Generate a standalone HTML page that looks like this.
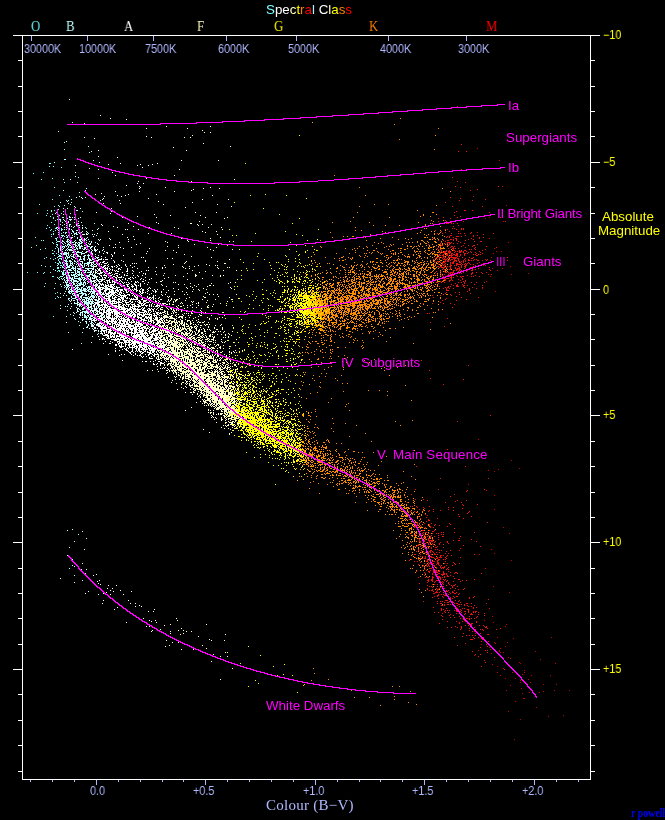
<!DOCTYPE html>
<html><head><meta charset="utf-8"><title>HR diagram</title>
<style>
html,body{margin:0;padding:0;background:#000;}
#c{position:relative;width:665px;height:820px;background:#000;overflow:hidden;}
#c svg{position:absolute;left:0;top:0;}
.t{position:absolute;white-space:nowrap;line-height:normal;transform-origin:0 0;will-change:transform;}
.s{font-family:"Liberation Sans",sans-serif;}
.r{font-family:"Liberation Serif",serif;}
.sx{transform:scaleX(.9);}
.b{font-weight:bold;}
</style></head><body>
<div id="c">
<svg width="665" height="820" viewBox="0 0 665 820">
<g shape-rendering="crispEdges" fill="none" stroke-width="1" transform="translate(0,.5)">
<path stroke="#80ffff" d="M64 149h1m-16 14h2m-2 3h1m3 0h1m7 1h1m-19 5h1m-11 1h1m18 5h1m-12 1h1m22 3h1m-11 5h1m4 8h1m-8 4h1m13 1h1m-28 4h1m18 1h1m-5 1h1m4 0h1m-13 4h1m3 0h1m2 0h1m-4 1h1m4 1h2m-21 1h1m9 0h1m13 0h1m-10 1h1m5 0h1m-13 1h1m3 1h1m6 0h1m-5 1h1m-1 1h1m3 1h1m1 0h2m-6 1h1m4 0h1m-1 1h1m-10 1h1m2 2h1m3 0h1m-12 1h1m14 0h1m-14 2h1m6 0h1m2 0h1m-14 1h1m8 0h1m5 0h1m-11 1h1m5 0h1m3 0h2m-13 1h1m4 0h1m2 0h2m1 0h1m-9 1h1m4 1h1m6 0h1m-13 1h1m7 0h1m-11 1h1m1 0h1m7 1h1m-11 1h1m7 0h1m2 0h1m-28 1h1m21 0h1m2 0h2m4 0h1m-12 1h2m6 0h1m-8 1h1m-16 1h1m1 0h1m12 0h1m0 1h1m-6 1h1m3 0h1m4 0h1m-9 1h1m2 1h1m6 0h1m-28 1h1m20 0h1m-2 1h1m3 0h1m1 0h1m-32 1h1m25 0h1m-13 1h1m9 0h1m2 0h1m-19 1h1m17 0h1m-7 1h1m8 0h1m-8 1h1m-3 2h2m2 0h1m5 0h1m2 0h1m-8 1h1m2 0h1m-8 1h1m5 0h1m-2 1h1m-14 1h1m-3 1h1m5 0h1m4 0h1m3 0h2m-8 1h1m4 0h1m4 0h1m2 0h1m-9 1h1m0 1h1m7 0h1m-13 1h1m3 0h2m1 0h1m-6 1h2m1 0h1m1 0h1m-5 1h1m4 0h1m-23 1h1m18 0h2m1 0h1m-19 1h1m4 0h1m6 1h1m2 0h1m1 0h2m-7 1h2m-6 1h1m4 1h2m7 0h1m-11 1h1m1 0h1m3 0h1m-37 1h1m9 0h1m6 0h1m5 0h1m12 0h1m1 0h1m-23 1h1m21 0h1m-1 1h1m2 0h1m-17 2h2m6 0h2m-3 1h1m-2 1h1m3 1h1m6 2h1m-7 1h1m-19 1h1m9 0h1m-12 3h1m16 0h1m3 0h1m-2 1h1m-8 5h1m-3 1h1m1 3h1m0 1h1m-4 1h1m4 7h1m-8 11h1"/>
<path stroke="#c0ffff" d="M69 99h1m30 16h1m-29 7h1m11 1h1m-27 8h1m25 6h1m-19 4h1m-3 1h1m23 4h1m2 5h1m-3 1h1m-26 7h2m27 1h1m-40 2h1m44 0h1m-25 3h1m13 3h1m-15 4h1m-1 4h1m2 1h1m19 1h1m-36 1h1m6 0h1m6 3h1m8 6h1m-24 2h1m21 0h1m-1 1h1m-7 1h1m-11 4h1m9 0h1m-4 1h1m4 0h1m3 0h1m-4 1h1m-12 1h1m30 0h1m-35 1h1m31 0h1m-34 1h1m-8 1h1m10 0h1m-4 1h1m1 1h1m-7 1h1m9 1h1m0 1h1m-13 1h1m3 0h1m12 0h1m-23 1h1m17 1h2m-15 1h1m18 0h1m-28 2h1m14 0h1m3 0h1m-12 1h1m2 0h1m7 0h1m-16 1h1m6 0h1m2 1h1m-8 1h2m5 0h2m1 0h1m1 0h1m5 0h1m-15 1h2m10 0h1m-16 1h1m5 0h3m2 0h2m-12 1h1m5 0h1m-6 1h1m2 0h1m9 0h1m-17 1h1m3 0h1m1 0h1m5 0h1m6 0h1m-16 1h1m10 0h2m15 0h1m-35 1h1m3 0h1m4 0h2m5 0h1m-11 1h1m2 0h1m6 0h1m1 0h2m2 0h1m-14 1h1m1 0h1m2 0h1m2 0h1m-21 1h1m6 0h1m1 0h1m6 0h1m5 0h1m2 0h1m2 0h1m-30 1h1m1 0h1m10 0h1m12 0h1m3 0h1m11 0h1m-35 1h1m1 0h1m1 0h2m1 0h1m25 0h1m-26 1h1m3 0h2m14 0h1m-21 1h2m8 0h1m3 0h1m-24 1h1m2 0h1m6 0h1m2 0h1m1 0h1m1 0h2m5 0h1m-23 1h1m5 0h1m2 0h3m2 0h1m6 0h1m1 0h1m-31 1h1m10 0h1m4 0h1m1 0h2m4 0h1m1 0h1m7 0h1m-31 1h2m2 0h1m1 0h1m3 0h1m23 0h1m-33 1h1m2 0h1m1 0h1m4 0h1m5 0h2m-15 1h1m3 0h2m4 0h1m2 0h2m5 0h1m-28 1h1m10 0h1m5 0h1m3 0h1m2 0h1m1 0h1m-20 1h2m1 0h1m8 0h3m2 0h2m2 0h1m9 0h1m-37 1h1m4 0h1m1 0h3m3 0h1m3 0h2m1 0h1m1 0h1m1 0h1m12 0h1m-42 1h3m1 0h2m2 0h3m1 0h2m2 0h1m5 0h2m7 0h1m1 0h1m-28 1h1m2 0h1m1 0h2m1 0h2m1 0h2m1 0h2m1 0h2m3 0h1m4 0h1m3 0h1m-34 1h1m2 0h1m2 0h1m1 0h2m3 0h1m1 0h1m1 0h3m6 0h1m1 0h1m-34 1h1m9 0h3m1 0h1m1 0h3m2 0h2m6 0h1m2 0h1m-25 1h1m1 0h1m1 0h2m4 0h2m1 0h2m1 0h1m2 0h1m2 0h1m-25 1h2m1 0h1m1 0h1m2 0h1m1 0h1m1 0h1m1 0h1m1 0h4m4 0h3m2 0h1m2 0h1m-36 1h1m1 0h1m1 0h1m3 0h1m1 0h2m1 0h2m1 0h1m2 0h2m3 0h2m4 0h2m2 0h1m8 0h1m-44 1h1m2 0h1m3 0h1m4 0h1m3 0h2m1 0h2m1 0h1m1 0h2m4 0h1m-31 1h1m1 0h1m3 0h1m1 0h4m2 0h2m1 0h1m5 0h2m1 0h1m1 0h1m2 0h1m-34 1h1m1 0h1m4 0h1m1 0h1m1 0h4m16 0h1m2 0h1m1 0h2m-38 1h1m2 0h2m10 0h3m1 0h2m3 0h1m3 0h3m2 0h1m7 0h1m4 0h1m-47 1h1m3 0h1m1 0h3m1 0h1m3 0h3m1 0h6m3 0h2m2 0h1m1 0h1m7 0h1m-40 1h2m1 0h2m1 0h3m5 0h1m1 0h1m4 0h4m6 0h2m-31 1h5m1 0h1m2 0h1m1 0h2m1 0h2m3 0h1m6 0h1m3 0h1m2 0h1m-37 1h1m2 0h1m3 0h1m1 0h1m1 0h1m2 0h1m1 0h1m1 0h2m5 0h2m1 0h3m8 0h1m-41 1h1m1 0h3m3 0h2m1 0h1m1 0h3m1 0h1m1 0h4m2 0h2m3 0h1m2 0h1m-35 1h1m4 0h2m1 0h1m1 0h3m3 0h2m5 0h1m3 0h1m3 0h1m7 0h2m-37 1h1m3 0h1m1 0h1m3 0h1m3 0h3m2 0h1m2 0h2m3 0h2m2 0h2m1 0h1m5 0h1m-41 1h1m10 0h1m4 0h1m1 0h3m1 0h2m2 0h1m4 0h2m4 0h1m-36 1h4m2 0h2m3 0h1m2 0h1m1 0h1m4 0h1m4 0h1m1 0h1m-27 1h2m2 0h3m2 0h2m1 0h1m2 0h3m10 0h1m3 0h1m-35 1h2m1 0h1m3 0h1m1 0h1m3 0h1m1 0h1m3 0h1m4 0h3m1 0h1m1 0h1m2 0h1m-32 1h3m2 0h3m1 0h1m2 0h1m1 0h2m1 0h1m1 0h6m3 0h1m4 0h1m-33 1h2m2 0h1m1 0h1m3 0h1m1 0h1m1 0h2m2 0h1m3 0h1m3 0h1m1 0h2m-39 1h1m6 0h1m1 0h2m1 0h3m1 0h1m4 0h5m1 0h1m1 0h1m1 0h1m1 0h2m1 0h1m-32 1h1m2 0h1m1 0h3m2 0h1m2 0h1m1 0h1m1 0h1m2 0h1m1 0h1m6 0h3m2 0h1m2 0h1m3 0h1m-46 1h1m7 0h4m2 0h2m1 0h1m6 0h2m-20 1h1m1 0h1m4 0h5m1 0h5m3 0h6m1 0h1m-28 1h1m2 0h3m2 0h1m1 0h1m2 0h3m6 0h2m4 0h1m1 0h1m-41 1h1m7 0h2m4 0h3m2 0h2m1 0h1m2 0h7m1 0h2m1 0h1m3 0h1m2 0h1m-38 1h1m5 0h1m7 0h1m1 0h3m3 0h1m1 0h1m4 0h2m1 0h1m-32 1h1m3 0h4m1 0h3m1 0h1m1 0h3m1 0h1m2 0h2m1 0h4m-29 1h2m3 0h2m6 0h2m2 0h1m1 0h1m2 0h1m5 0h1m1 0h1m2 0h1m1 0h1m2 0h1m-39 1h3m2 0h1m3 0h1m1 0h3m1 0h6m1 0h1m4 0h1m1 0h2m1 0h1m-32 1h1m2 0h4m1 0h4m1 0h1m1 0h2m1 0h3m2 0h4m2 0h1m2 0h1m14 0h1m-49 1h1m3 0h2m1 0h1m4 0h4m3 0h1m3 0h1m1 0h1m5 0h2m1 0h1m-40 1h1m6 0h1m1 0h5m1 0h1m1 0h1m4 0h1m1 0h4m2 0h1m2 0h1m1 0h1m1 0h2m3 0h1m-39 1h1m1 0h1m2 0h7m1 0h7m1 0h1m1 0h5m1 0h1m2 0h1m2 0h1m-38 1h1m4 0h1m2 0h1m1 0h1m1 0h3m4 0h4m1 0h2m1 0h2m1 0h1m9 0h1m1 0h1m-38 1h1m1 0h3m1 0h2m1 0h4m2 0h2m2 0h1m1 0h1m4 0h1m2 0h2m12 0h1m-43 1h1m1 0h1m3 0h1m1 0h6m1 0h1m3 0h1m2 0h2m1 0h2m4 0h1m1 0h1m1 0h1m-36 1h3m4 0h2m3 0h1m2 0h2m1 0h3m2 0h1m1 0h1m-25 1h1m2 0h1m1 0h1m1 0h2m1 0h1m1 0h4m1 0h1m1 0h1m1 0h1m3 0h1m1 0h1m4 0h1m1 0h1m-41 1h1m5 0h3m1 0h1m2 0h2m2 0h1m1 0h5m1 0h1m7 0h1m-30 1h1m1 0h5m1 0h1m2 0h6m2 0h2m8 0h1m1 0h2m-30 1h2m2 0h2m2 0h1m1 0h1m5 0h1m2 0h1m1 0h2m3 0h1m1 0h1m8 0h1m-39 1h2m1 0h1m1 0h4m1 0h3m2 0h2m4 0h3m3 0h1m3 0h1m8 0h1m-53 1h1m11 0h1m1 0h1m2 0h2m2 0h3m1 0h1m1 0h1m1 0h3m1 0h1m1 0h1m2 0h1m2 0h1m4 0h1m4 0h1m-40 1h1m1 0h1m1 0h2m1 0h3m1 0h5m1 0h1m1 0h2m1 0h5m2 0h2m-28 1h1m1 0h3m2 0h2m2 0h6m1 0h2m2 0h1m-27 1h1m2 0h14m2 0h3m1 0h3m1 0h2m2 0h1m-29 1h2m1 0h1m4 0h2m3 0h2m7 0h1m1 0h3m6 0h1m-42 1h1m3 0h1m4 0h2m1 0h4m3 0h7m5 0h4m-23 1h1m1 0h2m1 0h2m3 0h2m1 0h2m4 0h1m2 0h1m6 0h2m-40 1h1m2 0h1m6 0h6m2 0h2m2 0h2m4 0h3m1 0h1m5 0h1m3 0h1m-35 1h1m3 0h4m1 0h1m7 0h1m1 0h1m1 0h3m1 0h1m2 0h1m1 0h1m-42 1h1m10 0h1m3 0h4m1 0h2m1 0h5m1 0h2m1 0h2m4 0h1m-31 1h2m2 0h4m2 0h2m1 0h1m3 0h3m1 0h1m8 0h1m4 0h1m-36 1h1m2 0h1m4 0h5m1 0h3m1 0h1m1 0h4m2 0h1m1 0h1m1 0h1m-30 1h1m1 0h1m1 0h2m2 0h1m1 0h2m1 0h1m1 0h1m1 0h2m2 0h1m1 0h1m3 0h2m-28 1h1m6 0h1m3 0h1m1 0h4m1 0h6m3 0h2m5 0h1m-31 1h1m2 0h2m1 0h1m3 0h4m1 0h1m1 0h1m2 0h1m-24 1h1m2 0h4m1 0h4m1 0h7m1 0h2m4 0h1m-31 1h1m8 0h6m1 0h1m1 0h3m1 0h2m3 0h1m-19 1h1m1 0h2m1 0h2m4 0h1m2 0h1m5 0h3m-35 1h1m1 0h1m3 0h1m7 0h1m1 0h1m4 0h1m6 0h1m4 0h1m5 0h1m-29 1h1m6 0h3m1 0h3m1 0h1m2 0h1m1 0h1m-37 1h1m9 0h1m6 0h2m3 0h3m2 0h1m3 0h2m2 0h3m-21 1h1m1 0h1m2 0h2m2 0h4m1 0h1m2 0h1m4 0h1m-33 1h1m9 0h1m2 0h1m5 0h2m3 0h1m1 0h1m1 0h2m9 0h1m-30 1h2m3 0h6m1 0h1m6 0h1m1 0h1m-26 1h1m2 0h1m3 0h3m1 0h8m1 0h1m1 0h1m-22 1h1m5 0h1m1 0h1m2 0h1m1 0h2m4 0h1m5 0h1m2 0h1m-33 1h1m8 0h2m1 0h1m1 0h1m4 0h1m1 0h1m4 0h2m-25 1h1m6 0h1m1 0h1m1 0h2m1 0h2m1 0h3m1 0h2m4 0h1m-35 1h1m17 0h3m1 0h1m1 0h3m2 0h1m4 0h1m2 0h1m-25 1h1m2 0h1m1 0h4m1 0h2m5 0h1m5 0h1m-29 1h1m11 0h1m2 0h1m1 0h2m2 0h1m-21 1h1m6 0h2m4 0h2m1 0h1m2 0h1m-13 1h1m8 0h2m3 0h1m3 0h1m1 0h1m-25 1h1m6 0h2m2 0h1m1 0h1m9 0h1m-36 1h1m13 0h1m5 0h1m4 0h2m2 0h1m5 0h1m-16 1h1m3 0h2m1 0h1m3 0h1m4 0h1m-15 1h1m2 0h2m1 0h1m4 0h1m5 0h1m-27 1h1m8 0h1m2 0h1m1 0h1m2 0h2m4 0h1m2 0h1m-19 1h1m5 0h1m-8 1h2m12 0h1m-18 1h1m5 0h1m2 0h1m1 0h1m2 0h1m15 0h1m-21 1h1m8 0h1m-9 1h1m1 0h1m1 1h1m1 0h1m-33 1h1m13 0h1m18 0h1m-4 1h1m-2 1h1m-6 2h1m-2 6h1m-11 1h1m-10 6h1m-1 180h1m-6 1h1m14 1h1m-5 3h1m7 4h1m-13 3h1m-6 6h1m14 2h1m-18 6h1m4 4h1m9 4h1m-11 2h1m1 1h1m-6 2h1m11 1h1m4 0h1m-2 4h1m10 1h1m-23 1h1m-15 3h1m21 2h1m14 1h1m-24 1h1m13 9h1m9 3h1"/>
<path stroke="#ffffff" d="M110 118h1m15 1h1m19 9h1m-1 8h1m4 1h1m-58 1h1m3 12h1m-1 6h1m18 1h1m2 6h1m-28 1h1m14 0h1m31 0h1m11 0h1m-16 1h1m10 0h1m-7 2h1m-45 2h1m13 3h1m2 3h1m30 3h1m-9 3h1m-2 2h1m5 0h1m-18 2h1m12 1h1m0 1h1m-2 1h1m-25 3h1m23 0h1m-39 2h1m-7 1h1m32 0h1m-12 1h1m7 0h1m-22 1h1m16 0h1m-19 2h1m44 0h1m-30 2h1m-17 3h1m16 0h1m-10 5h1m-1 3h1m-16 1h1m13 1h1m43 1h1m15 1h1m-34 1h1m-16 1h1m33 0h1m-1 5h1m-29 1h1m29 0h1m-58 1h1m0 1h1m10 1h1m19 0h1m-17 1h1m31 0h1m-25 2h1m1 0h1m10 0h1m-31 2h1m51 1h1m-64 1h1m50 0h1m-66 1h1m2 0h2m6 0h1m27 0h1m-30 2h1m39 0h1m-7 1h1m-19 1h1m-10 1h1m9 0h1m17 0h1m5 0h1m-7 2h1m-10 1h1m-35 1h1m11 0h1m42 0h1m-56 1h1m4 0h1m7 0h1m16 0h1m20 0h1m-28 1h1m-19 1h1m21 1h1m1 0h1m4 0h1m10 0h1m-38 1h1m28 0h1m25 0h1m-56 1h2m1 0h1m5 0h1m-8 1h1m5 0h1m-8 1h1m51 0h1m-42 1h2m6 0h1m-12 1h1m3 0h1m6 0h1m31 0h1m-36 1h1m22 0h1m-43 1h1m19 0h1m10 0h1m-29 1h1m5 0h1m10 0h1m-20 1h1m4 0h1m6 0h1m35 0h1m1 0h1m-47 1h1m13 0h1m-23 1h2m8 0h3m1 0h1m1 0h3m-18 1h1m4 0h4m14 0h1m7 0h1m23 0h1m-57 1h1m4 0h1m8 0h2m9 0h1m8 0h1m21 0h1m-56 1h1m1 0h1m7 0h1m1 0h2m3 0h1m6 0h1m-24 1h1m4 0h2m1 0h1m4 0h3m25 0h1m1 0h1m1 0h1m-50 1h1m3 0h1m5 0h3m1 0h1m6 0h1m9 0h1m6 0h1m-30 1h1m1 0h2m4 0h2m1 0h1m8 0h1m2 0h1m5 0h1m4 0h1m-43 1h1m5 0h2m4 0h2m2 0h1m3 0h1m2 0h2m1 0h1m2 0h1m8 0h1m7 0h1m-42 1h1m7 0h3m1 0h1m1 0h1m4 0h1m3 0h1m4 0h1m10 0h1m15 0h1m7 0h1m5 0h1m-72 1h1m1 0h1m3 0h1m1 0h2m3 0h4m1 0h1m8 0h2m7 0h1m9 0h1m24 0h1m-71 1h1m5 0h2m5 0h1m1 0h1m2 0h1m1 0h1m5 0h1m1 0h1m6 0h1m-32 1h1m2 0h2m3 0h1m1 0h1m2 0h1m2 0h1m1 0h1m1 0h1m10 0h1m4 0h1m13 0h1m1 0h1m-54 1h1m1 0h1m2 0h1m2 0h1m2 0h2m7 0h1m1 0h2m7 0h2m5 0h1m7 0h1m13 0h1m-65 1h1m1 0h1m1 0h2m3 0h3m1 0h2m3 0h1m1 0h1m10 0h1m16 0h1m-42 1h2m1 0h1m3 0h2m1 0h3m4 0h3m9 0h1m4 0h1m10 0h1m1 0h1m-56 1h1m8 0h1m4 0h1m2 0h1m4 0h1m1 0h1m4 0h1m4 0h1m20 0h1m10 0h1m-64 1h2m5 0h2m1 0h4m2 0h1m1 0h1m4 0h2m6 0h1m1 0h2m5 0h1m3 0h1m4 0h1m-55 1h2m5 0h1m1 0h1m3 0h1m4 0h1m2 0h1m3 0h2m2 0h1m3 0h1m16 0h1m-43 1h1m5 0h1m1 0h2m2 0h1m2 0h2m2 0h2m1 0h4m1 0h1m6 0h1m1 0h1m2 0h1m9 0h1m-54 1h1m1 0h1m7 0h1m2 0h1m4 0h1m1 0h1m3 0h1m8 0h1m2 0h2m3 0h1m7 0h1m9 0h1m12 0h1m-75 1h1m5 0h2m2 0h1m1 0h3m4 0h1m3 0h1m2 0h1m2 0h1m2 0h1m2 0h1m4 0h1m9 0h1m2 0h1m5 0h1m-59 1h1m3 0h1m1 0h2m2 0h2m3 0h1m1 0h2m2 0h1m1 0h1m1 0h2m2 0h1m6 0h1m17 0h1m16 0h1m-71 1h3m4 0h1m1 0h1m2 0h1m2 0h1m1 0h1m2 0h5m2 0h1m1 0h1m9 0h1m3 0h1m1 0h1m4 0h2m-55 1h1m1 0h1m2 0h2m3 0h1m5 0h1m1 0h1m1 0h2m1 0h1m1 0h5m3 0h1m1 0h1m1 0h1m1 0h1m6 0h2m1 0h1m9 0h1m7 0h1m-61 1h1m2 0h1m2 0h1m4 0h1m6 0h1m2 0h2m1 0h1m2 0h1m5 0h1m4 0h1m5 0h1m3 0h1m-54 1h1m3 0h3m2 0h4m1 0h1m2 0h1m1 0h5m11 0h3m2 0h1m2 0h2m4 0h1m6 0h1m-56 1h1m1 0h1m2 0h1m1 0h1m1 0h1m1 0h1m1 0h4m1 0h2m1 0h1m6 0h5m2 0h1m4 0h1m2 0h2m1 0h1m1 0h1m21 0h1m-73 1h1m5 0h1m1 0h2m5 0h2m1 0h5m1 0h1m1 0h1m4 0h2m4 0h2m2 0h3m2 0h1m3 0h1m-50 1h2m2 0h1m2 0h6m1 0h1m1 0h1m2 0h4m2 0h4m4 0h1m4 0h1m2 0h1m3 0h1m12 0h1m-59 1h1m4 0h1m1 0h2m2 0h3m1 0h4m2 0h4m1 0h1m6 0h2m1 0h3m4 0h1m1 0h1m4 0h1m6 0h1m1 0h1m-67 1h1m8 0h2m4 0h4m2 0h8m3 0h2m1 0h4m1 0h3m3 0h1m1 0h1m1 0h3m3 0h1m1 0h2m3 0h1m6 0h1m2 0h1m-65 1h8m3 0h3m2 0h1m1 0h3m1 0h4m1 0h3m2 0h2m2 0h1m1 0h1m1 0h1m2 0h2m1 0h1m2 0h2m4 0h1m3 0h1m2 0h1m-65 1h1m2 0h2m1 0h4m3 0h2m3 0h5m1 0h1m1 0h2m1 0h1m2 0h1m2 0h1m1 0h1m2 0h2m3 0h1m2 0h2m1 0h1m4 0h1m5 0h1m1 0h2m-59 1h3m2 0h1m1 0h1m2 0h9m2 0h3m4 0h2m2 0h1m1 0h2m6 0h1m1 0h2m1 0h1m9 0h1m5 0h1m-73 1h1m6 0h5m1 0h2m1 0h5m1 0h4m2 0h1m1 0h1m1 0h1m1 0h1m7 0h4m4 0h1m1 0h2m4 0h1m3 0h1m-64 1h1m7 0h2m2 0h1m2 0h2m1 0h3m1 0h4m1 0h1m2 0h3m3 0h1m2 0h3m3 0h1m3 0h1m2 0h1m8 0h1m15 0h1m-69 1h1m8 0h1m1 0h4m1 0h2m1 0h2m2 0h7m2 0h1m2 0h1m1 0h1m1 0h2m3 0h1m11 0h1m1 0h1m6 0h1m-82 1h1m9 0h1m6 0h1m1 0h1m1 0h1m1 0h1m1 0h5m1 0h1m2 0h1m2 0h2m1 0h1m1 0h3m8 0h2m1 0h1m2 0h1m6 0h1m5 0h1m13 0h1m-74 1h1m1 0h1m3 0h5m3 0h2m2 0h1m1 0h3m3 0h4m1 0h1m1 0h1m7 0h3m6 0h1m2 0h1m1 0h2m1 0h2m5 0h1m-72 1h1m2 0h1m1 0h1m5 0h1m1 0h2m1 0h6m2 0h3m3 0h2m1 0h3m2 0h2m1 0h1m1 0h1m1 0h1m2 0h2m4 0h1m2 0h1m2 0h2m3 0h1m1 0h1m-64 1h1m2 0h1m3 0h1m1 0h4m1 0h1m1 0h3m3 0h2m1 0h4m1 0h2m6 0h8m3 0h2m3 0h2m2 0h1m2 0h1m6 0h2m6 0h1m-81 1h1m6 0h1m2 0h1m2 0h2m1 0h7m1 0h3m3 0h1m1 0h1m1 0h1m1 0h3m3 0h1m7 0h2m4 0h3m4 0h1m3 0h1m12 0h1m-70 1h4m2 0h2m2 0h8m1 0h2m2 0h2m1 0h1m3 0h2m1 0h1m2 0h1m1 0h1m1 0h2m2 0h3m3 0h1m2 0h1m2 0h2m2 0h1m7 0h1m-86 1h1m5 0h1m3 0h1m2 0h5m1 0h2m1 0h2m1 0h4m1 0h1m1 0h1m1 0h6m3 0h4m2 0h2m5 0h3m2 0h1m2 0h3m1 0h1m5 0h1m1 0h1m-68 1h1m3 0h3m5 0h1m1 0h1m1 0h10m1 0h1m3 0h1m3 0h1m3 0h1m3 0h1m4 0h4m1 0h2m6 0h1m5 0h1m4 0h1m-70 1h1m2 0h3m1 0h6m1 0h1m2 0h2m5 0h3m2 0h2m1 0h4m1 0h4m2 0h2m2 0h1m1 0h2m4 0h1m1 0h1m2 0h1m2 0h1m2 0h1m6 0h1m1 0h1m-83 1h1m5 0h2m5 0h3m1 0h4m2 0h7m1 0h2m2 0h2m1 0h1m2 0h1m3 0h1m1 0h2m2 0h2m1 0h3m1 0h1m1 0h1m1 0h1m1 0h1m4 0h1m1 0h2m-72 1h1m1 0h2m2 0h1m1 0h1m2 0h1m2 0h1m2 0h1m1 0h15m1 0h1m2 0h1m1 0h1m1 0h1m1 0h9m5 0h1m2 0h1m1 0h1m1 0h1m1 0h3m1 0h1m-70 1h1m7 0h1m1 0h2m1 0h5m1 0h1m2 0h5m1 0h7m5 0h3m1 0h1m3 0h1m3 0h1m1 0h1m16 0h1m-74 1h1m5 0h1m4 0h2m1 0h1m1 0h1m1 0h1m1 0h3m4 0h5m1 0h7m1 0h2m1 0h4m1 0h1m3 0h1m1 0h2m3 0h2m1 0h1m2 0h1m2 0h1m-63 1h2m3 0h5m2 0h11m1 0h7m1 0h5m1 0h8m1 0h2m3 0h1m1 0h2m1 0h2m17 0h1m-82 1h1m1 0h1m1 0h1m2 0h1m1 0h1m1 0h1m1 0h2m2 0h5m1 0h5m5 0h2m1 0h4m1 0h1m1 0h1m1 0h1m1 0h2m3 0h4m2 0h3m2 0h1m-66 1h1m1 0h1m1 0h2m3 0h1m1 0h1m3 0h2m1 0h4m1 0h7m1 0h9m2 0h3m1 0h2m1 0h3m4 0h3m1 0h1m2 0h1m1 0h1m1 0h1m8 0h1m7 0h1m-76 1h1m1 0h3m1 0h4m1 0h5m1 0h12m1 0h1m1 0h1m1 0h3m1 0h2m2 0h6m1 0h1m1 0h1m1 0h1m5 0h1m1 0h1m1 0h1m3 0h1m-69 1h2m2 0h2m1 0h1m2 0h5m1 0h1m1 0h6m1 0h2m2 0h1m2 0h1m1 0h2m1 0h2m2 0h3m3 0h1m1 0h1m3 0h1m3 0h2m1 0h2m1 0h1m1 0h1m-70 1h4m2 0h1m2 0h3m2 0h5m3 0h4m1 0h3m1 0h8m1 0h4m1 0h5m1 0h4m1 0h4m2 0h1m2 0h2m4 0h1m-71 1h1m7 0h2m1 0h1m1 0h1m1 0h3m1 0h1m1 0h1m1 0h3m3 0h1m1 0h9m1 0h2m1 0h1m1 0h1m1 0h4m4 0h1m1 0h1m2 0h3m2 0h1m5 0h1m-69 1h3m1 0h1m2 0h1m1 0h4m2 0h1m2 0h7m2 0h1m1 0h1m1 0h4m1 0h3m1 0h2m3 0h2m1 0h2m1 0h1m1 0h2m2 0h1m1 0h1m7 0h1m1 0h1m4 0h1m-79 1h3m3 0h1m1 0h1m1 0h2m1 0h5m1 0h1m1 0h1m1 0h2m1 0h1m1 0h1m1 0h1m1 0h2m1 0h2m3 0h2m2 0h5m3 0h7m3 0h1m1 0h1m7 0h1m16 0h1m-93 1h1m3 0h1m1 0h7m2 0h1m1 0h10m1 0h1m1 0h5m2 0h2m3 0h3m3 0h1m1 0h2m2 0h1m1 0h2m1 0h3m3 0h3m2 0h3m1 0h1m8 0h1m-88 1h1m3 0h1m2 0h1m2 0h1m1 0h5m1 0h1m1 0h1m1 0h1m2 0h4m1 0h1m1 0h2m1 0h1m1 0h7m2 0h2m1 0h3m3 0h4m3 0h1m1 0h2m3 0h1m1 0h1m1 0h3m1 0h1m-71 1h3m2 0h1m4 0h2m1 0h2m1 0h1m1 0h3m1 0h1m1 0h1m1 0h7m1 0h3m2 0h2m2 0h1m2 0h3m1 0h4m1 0h1m1 0h1m1 0h1m3 0h1m1 0h1m5 0h1m-71 1h1m5 0h1m3 0h13m2 0h2m1 0h6m1 0h1m1 0h1m1 0h2m1 0h1m1 0h2m3 0h1m4 0h4m1 0h1m3 0h4m-62 1h2m3 0h1m1 0h3m2 0h2m1 0h3m1 0h3m2 0h2m1 0h2m1 0h6m1 0h4m1 0h1m2 0h2m1 0h1m3 0h1m1 0h2m2 0h2m3 0h2m1 0h1m-68 1h4m1 0h1m3 0h4m1 0h4m1 0h1m1 0h6m1 0h3m2 0h1m3 0h2m1 0h4m1 0h6m1 0h1m2 0h1m2 0h3m1 0h1m2 0h2m-69 1h3m2 0h1m1 0h2m2 0h1m1 0h2m1 0h1m2 0h5m1 0h2m1 0h7m3 0h9m3 0h5m4 0h3m1 0h1m4 0h1m-73 1h1m5 0h3m2 0h1m2 0h1m5 0h1m1 0h1m1 0h1m1 0h8m2 0h6m1 0h1m1 0h2m1 0h3m3 0h2m2 0h1m1 0h4m2 0h1m3 0h1m-72 1h2m5 0h5m1 0h2m2 0h1m1 0h3m1 0h1m1 0h3m1 0h14m1 0h6m2 0h3m2 0h1m3 0h6m7 0h1m-72 1h2m5 0h6m1 0h7m1 0h1m2 0h3m1 0h1m1 0h1m2 0h3m2 0h4m2 0h1m1 0h5m1 0h1m1 0h1m1 0h4m3 0h1m1 0h1m5 0h1m-72 1h1m4 0h7m3 0h3m1 0h2m1 0h8m1 0h2m1 0h8m1 0h5m1 0h5m1 0h2m1 0h1m1 0h1m6 0h1m1 0h1m2 0h1m3 0h1m-71 1h1m4 0h5m1 0h1m1 0h7m1 0h3m1 0h1m1 0h1m1 0h3m1 0h4m1 0h1m2 0h2m2 0h1m2 0h2m2 0h3m1 0h1m4 0h1m2 0h1m1 0h1m-73 1h1m2 0h1m2 0h6m2 0h3m1 0h9m1 0h6m2 0h2m1 0h3m1 0h6m1 0h2m2 0h1m2 0h1m1 0h4m7 0h2m3 0h1m-77 1h1m6 0h1m1 0h2m1 0h1m1 0h3m4 0h3m2 0h1m1 0h1m1 0h1m1 0h3m2 0h1m2 0h3m2 0h5m1 0h1m2 0h2m1 0h5m3 0h1m13 0h1m-70 1h1m1 0h1m1 0h5m1 0h2m1 0h4m1 0h1m1 0h2m1 0h6m1 0h9m1 0h1m1 0h1m2 0h1m1 0h1m6 0h2m1 0h1m5 0h2m-69 1h3m1 0h1m3 0h1m1 0h6m1 0h9m1 0h2m2 0h5m1 0h1m2 0h8m1 0h1m2 0h1m3 0h4m1 0h2m-61 1h1m2 0h3m2 0h2m1 0h2m4 0h7m5 0h1m2 0h1m1 0h8m1 0h1m4 0h5m1 0h2m6 0h1m6 0h1m-69 1h6m1 0h1m1 0h1m1 0h1m1 0h2m1 0h7m1 0h2m2 0h1m1 0h7m1 0h4m1 0h3m2 0h2m1 0h3m2 0h1m1 0h1m2 0h1m3 0h1m-71 1h1m8 0h2m1 0h5m1 0h4m1 0h7m1 0h1m2 0h14m1 0h1m2 0h3m2 0h2m1 0h1m22 0h1m-76 1h1m1 0h1m1 0h2m1 0h2m1 0h1m3 0h4m1 0h3m5 0h5m1 0h3m1 0h4m1 0h5m2 0h5m10 0h2m-70 1h2m3 0h3m5 0h1m1 0h2m1 0h1m2 0h4m1 0h2m1 0h1m1 0h4m1 0h4m1 0h7m1 0h1m1 0h5m2 0h1m3 0h1m5 0h1m-72 1h1m2 0h1m1 0h1m6 0h14m2 0h1m1 0h2m1 0h2m3 0h1m1 0h4m1 0h7m3 0h4m2 0h2m7 0h1m-56 1h3m2 0h1m3 0h10m1 0h2m1 0h2m2 0h10m1 0h2m1 0h2m2 0h3m5 0h1m-63 1h1m4 0h1m6 0h3m4 0h3m1 0h2m1 0h11m2 0h4m2 0h3m4 0h1m1 0h2m2 0h1m1 0h2m1 0h2m-58 1h1m4 0h1m1 0h4m1 0h7m1 0h20m1 0h1m1 0h2m6 0h2m5 0h1m-68 1h1m5 0h2m7 0h2m1 0h1m1 0h1m1 0h1m3 0h1m1 0h5m1 0h3m1 0h1m1 0h4m1 0h6m1 0h4m2 0h1m1 0h1m4 0h1m3 0h1m-58 1h2m1 0h1m2 0h1m3 0h2m1 0h4m1 0h3m3 0h3m1 0h6m1 0h5m3 0h1m1 0h1m2 0h1m1 0h1m2 0h1m1 0h1m-56 1h2m2 0h1m1 0h1m3 0h1m2 0h2m2 0h3m1 0h1m1 0h9m1 0h2m2 0h1m1 0h1m1 0h2m4 0h3m11 0h1m-58 1h5m1 0h1m3 0h1m2 0h1m1 0h4m1 0h3m1 0h5m1 0h2m1 0h2m3 0h2m1 0h4m-44 1h2m5 0h1m1 0h6m1 0h2m1 0h4m1 0h3m1 0h1m1 0h3m1 0h3m1 0h1m1 0h5m3 0h1m-54 1h1m8 0h1m1 0h1m1 0h1m3 0h1m2 0h2m1 0h2m2 0h3m1 0h1m1 0h11m1 0h1m2 0h1m2 0h1m-45 1h1m2 0h2m5 0h1m3 0h1m1 0h2m1 0h7m1 0h1m1 0h4m2 0h1m2 0h1m1 0h2m4 0h1m-54 1h1m3 0h1m6 0h2m4 0h1m3 0h1m1 0h2m3 0h1m1 0h1m3 0h5m3 0h2m2 0h1m2 0h1m6 0h1m-57 1h1m12 0h1m2 0h2m2 0h1m1 0h1m1 0h3m2 0h2m1 0h1m2 0h1m1 0h3m1 0h1m1 0h1m1 0h1m3 0h1m2 0h1m2 0h1m-42 1h2m2 0h1m6 0h1m1 0h2m3 0h1m1 0h2m1 0h2m2 0h1m3 0h1m2 0h1m3 0h3m2 0h1m1 0h1m1 0h1m-47 1h1m4 0h1m5 0h2m6 0h3m2 0h1m7 0h1m4 0h1m-60 1h1m12 0h1m2 0h1m6 0h1m3 0h1m4 0h1m4 0h1m2 0h2m2 0h1m1 0h4m3 0h2m3 0h1m-48 1h1m13 0h1m3 0h1m1 0h2m7 0h1m9 0h1m6 0h1m-25 1h1m1 0h1m2 0h1m4 0h1m2 0h1m-13 1h1m6 0h1m10 0h1m2 0h1m2 0h1m-18 1h3m4 0h1m1 0h1m5 0h3m-10 1h2m7 0h1m4 0h2m-51 1h1m32 0h1m5 0h1m9 0h1m-30 1h1m2 0h2m3 0h1m2 0h1m4 0h2m0 1h2m2 0h1m-12 1h1m3 0h1m2 0h4m-11 1h2m1 0h1m10 1h1m2 0h1m-14 1h1m5 1h1m-4 1h1m1 0h1m1 0h1m2 0h1m-21 2h1m10 1h1m10 0h1m-3 1h1m3 10h1m-79 193h1m5 5h1m-9 1h1m6 2h1m1 1h1m7 1h1m7 0h1m-10 3h1m4 0h1m-3 2h1m9 0h1m-8 1h1m17 0h1m-26 1h1m-22 1h1m17 0h1m6 1h1m12 0h1m-13 4h1m-9 2h1m24 0h1m-27 3h1m27 0h1m4 0h1m3 2h1m-5 1h1m5 0h1m-25 1h1m-4 2h1m11 0h1m27 0h1m-7 2h1m4 0h1m-11 7h1m5 2h1m5 0h1m-5 1h1m-26 1h1m29 0h1m7 3h1m-19 1h1m2 0h1m10 3h1m-9 1h1m-2 1h1m18 2h1"/>
<path stroke="#ffffc8" d="M207 122h1m-42 4h1m43 0h1m-24 2h1m14 2h1m1 2h1m5 0h1m-19 3h1m-9 2h1m5 0h1m12 6h1m26 3h1m-58 1h1m12 3h1m-6 10h1m36 0h1m-62 3h1m21 6h1m-6 6h1m-9 4h1m67 0h1m-44 2h1m9 1h1m-37 5h1m44 0h1m-8 1h1m15 0h1m-27 1h1m-3 1h1m-18 1h1m-19 3h1m55 1h1m-11 4h1m25 0h1m-71 2h1m33 1h1m-30 2h1m53 0h1m13 2h1m-47 1h1m9 5h1m20 0h1m-17 3h1m4 2h1m21 0h1m-4 1h1m-26 3h1m-10 2h2m5 1h1m4 0h1m8 0h1m-14 1h1m-25 2h1m33 0h1m12 0h1m-44 1h1m43 1h1m-21 2h1m13 0h1m-12 1h1m-35 1h1m45 1h1m2 3h1m-40 1h1m28 0h1m-24 2h1m22 0h1m-46 1h1m22 0h1m40 0h1m3 0h1m-67 1h1m38 0h1m-13 2h1m23 0h1m-41 1h1m-12 1h1m10 1h1m28 0h1m8 0h1m-7 2h1m21 0h1m-68 1h1m7 0h1m39 0h1m-38 2h1m7 2h1m6 2h1m19 1h1m-45 1h1m4 0h1m56 1h1m-44 2h1m30 0h1m-33 1h1m-2 1h1m39 0h2m-53 1h1m32 0h1m-43 1h1m33 0h1m10 0h1m5 0h1m1 0h1m-36 1h1m6 0h1m4 0h1m-30 1h1m17 0h1m33 0h1m9 0h1m1 0h1m-45 1h1m3 0h1m28 0h1m-27 2h1m30 0h1m12 0h1m-32 1h1m-7 1h1m-36 1h1m22 0h1m7 1h1m-33 1h1m11 0h1m19 0h2m15 0h1m7 0h1m2 0h1m-41 1h1m11 0h1m24 0h1m-53 1h1m33 1h1m-16 1h1m-28 2h2m11 1h1m1 0h1m54 0h1m4 0h1m-46 1h1m20 0h1m16 0h1m-68 1h1m16 0h1m5 0h1m13 0h1m-5 1h1m14 0h2m2 0h1m-48 1h1m23 0h1m5 0h1m10 0h1m-22 1h1m5 0h1m37 0h1m-58 1h1m13 0h1m15 0h1m27 0h1m-69 1h1m14 0h1m14 0h1m4 0h1m7 0h1m-39 1h1m30 0h1m-39 1h1m12 0h1m7 0h1m9 0h1m-27 1h1m19 0h1m20 0h1m-3 1h1m-45 1h1m12 0h1m9 0h1m2 0h1m21 0h1m3 0h1m3 0h1m18 0h1m-68 2h1m33 0h1m14 0h1m-51 1h1m20 0h1m14 0h2m23 0h1m-79 1h1m6 0h1m12 0h1m7 0h1m6 0h1m51 0h1m-68 1h1m2 0h1m1 0h2m24 0h1m12 0h1m15 0h2m-90 1h1m14 0h1m11 0h1m4 0h2m8 0h1m21 0h1m-39 1h1m3 0h1m1 0h1m15 0h1m1 0h1m33 0h1m-55 1h1m7 0h1m10 0h1m5 0h1m7 0h1m-47 1h1m1 0h1m1 0h2m3 0h1m10 0h1m1 0h1m13 0h1m1 0h1m21 0h1m-58 1h1m2 0h1m5 0h2m18 0h1m20 0h1m-68 1h1m10 0h1m3 0h1m2 0h1m13 0h1m4 0h1m3 0h1m2 0h1m7 0h1m9 0h1m17 0h1m-61 1h1m9 0h1m3 0h2m25 0h1m4 0h1m-55 1h1m3 0h1m3 0h1m10 0h1m9 0h1m4 0h1m3 0h1m10 0h2m24 0h1m-74 1h1m6 0h1m2 0h2m3 0h1m2 0h1m5 0h1m16 0h1m-46 1h1m3 0h3m5 0h1m4 0h1m2 0h1m-19 1h1m5 0h1m8 0h2m1 0h1m1 0h1m2 0h1m10 0h1m7 0h1m10 0h1m-47 1h1m1 0h1m6 0h1m6 0h1m4 0h1m1 0h1m12 0h1m-45 1h1m4 0h2m3 0h1m5 0h1m1 0h2m14 0h1m13 0h1m16 0h2m-77 1h1m12 0h1m4 0h1m1 0h1m3 0h1m1 0h1m10 0h1m1 0h1m1 0h1m2 0h2m8 0h1m-55 1h1m19 0h2m7 0h1m1 0h1m3 0h1m16 0h1m-47 1h1m7 0h1m2 0h1m1 0h1m4 0h2m2 0h1m7 0h1m4 0h1m1 0h1m9 0h2m9 0h1m12 0h1m-62 1h1m1 0h1m1 0h1m1 0h2m5 0h1m2 0h4m15 0h1m-43 1h1m2 0h1m1 0h1m1 0h2m1 0h3m1 0h3m5 0h2m1 0h1m3 0h1m3 0h1m5 0h1m11 0h1m11 0h1m2 0h1m-70 1h1m15 0h4m1 0h1m1 0h1m5 0h1m10 0h1m15 0h1m5 0h1m1 0h1m-64 1h1m1 0h1m9 0h1m7 0h2m4 0h1m4 0h1m12 0h1m10 0h1m7 0h1m-67 1h1m1 0h1m3 0h1m1 0h1m1 0h2m3 0h2m1 0h2m3 0h1m1 0h1m4 0h2m4 0h3m2 0h1m3 0h1m-35 1h1m1 0h1m3 0h2m1 0h4m1 0h1m1 0h2m1 0h2m4 0h1m2 0h1m7 0h1m5 0h1m-46 1h3m4 0h3m2 0h2m1 0h4m1 0h1m1 0h2m1 0h1m5 0h1m2 0h1m3 0h1m1 0h2m1 0h2m4 0h1m-40 1h3m3 0h1m1 0h1m2 0h3m1 0h1m1 0h1m3 0h2m-41 1h1m16 0h1m2 0h1m3 0h2m2 0h1m1 0h1m1 0h2m1 0h2m2 0h1m2 0h1m1 0h1m2 0h1m5 0h1m1 0h2m1 0h1m11 0h1m-71 1h1m7 0h2m2 0h2m1 0h2m3 0h1m2 0h2m1 0h1m1 0h1m2 0h3m3 0h1m7 0h1m3 0h2m3 0h1m9 0h1m4 0h1m-62 1h5m3 0h1m4 0h2m1 0h1m1 0h2m5 0h1m1 0h3m1 0h2m2 0h2m1 0h1m10 0h1m-48 1h1m1 0h1m3 0h1m1 0h3m2 0h2m2 0h1m1 0h1m1 0h1m1 0h1m4 0h1m1 0h2m1 0h1m1 0h1m3 0h1m7 0h1m5 0h1m7 0h1m10 0h1m-78 1h1m1 0h1m1 0h1m4 0h2m2 0h1m3 0h1m1 0h1m1 0h2m1 0h1m1 0h4m1 0h3m1 0h1m3 0h2m6 0h1m10 0h1m7 0h1m-65 1h1m1 0h1m3 0h1m1 0h1m1 0h1m1 0h2m1 0h1m1 0h5m1 0h3m1 0h2m2 0h2m5 0h1m2 0h1m1 0h1m2 0h1m2 0h1m1 0h1m6 0h2m4 0h1m-70 1h1m6 0h5m2 0h2m3 0h1m1 0h1m1 0h6m4 0h1m2 0h3m4 0h1m1 0h2m4 0h1m5 0h1m-53 1h1m2 0h1m1 0h1m1 0h5m1 0h2m2 0h1m1 0h4m3 0h1m2 0h1m2 0h1m1 0h1m1 0h1m3 0h2m4 0h2m7 0h1m1 0h1m2 0h1m1 0h1m3 0h1m7 0h1m-88 1h1m4 0h1m2 0h1m6 0h1m2 0h1m1 0h2m2 0h1m2 0h1m1 0h1m1 0h2m3 0h2m2 0h2m2 0h1m2 0h1m2 0h1m2 0h1m2 0h2m9 0h3m8 0h1m-71 1h1m1 0h1m4 0h1m6 0h1m1 0h2m1 0h1m1 0h1m4 0h1m1 0h3m1 0h5m1 0h1m3 0h1m1 0h1m3 0h2m2 0h1m22 0h1m-82 1h1m11 0h1m1 0h1m3 0h4m1 0h1m1 0h1m1 0h1m2 0h1m3 0h1m1 0h5m2 0h2m3 0h2m2 0h1m3 0h1m6 0h1m1 0h1m4 0h1m3 0h1m3 0h1m3 0h1m-73 1h1m2 0h1m1 0h2m5 0h3m2 0h6m1 0h2m1 0h1m1 0h2m1 0h2m2 0h2m3 0h2m2 0h1m2 0h1m3 0h2m14 0h1m5 0h1m-72 1h3m3 0h1m1 0h6m2 0h5m1 0h1m2 0h1m2 0h1m2 0h2m7 0h2m1 0h1m2 0h1m2 0h2m1 0h1m1 0h1m13 0h1m-69 1h2m1 0h2m1 0h2m4 0h1m1 0h2m4 0h3m4 0h1m1 0h3m1 0h2m2 0h3m1 0h2m1 0h1m1 0h1m6 0h2m8 0h1m1 0h1m2 0h1m-79 1h1m8 0h1m3 0h1m2 0h2m3 0h1m1 0h1m1 0h5m1 0h5m1 0h4m1 0h3m1 0h1m3 0h1m6 0h2m4 0h1m-56 1h1m3 0h4m1 0h1m2 0h1m2 0h2m1 0h2m2 0h1m1 0h1m1 0h2m1 0h5m2 0h2m2 0h2m2 0h1m2 0h3m1 0h1m1 0h3m7 0h1m14 0h1m-83 1h1m9 0h3m1 0h1m1 0h5m1 0h1m1 0h6m1 0h1m3 0h2m2 0h1m2 0h1m1 0h4m6 0h1m4 0h1m1 0h1m11 0h1m-67 1h2m7 0h2m1 0h5m2 0h1m1 0h2m2 0h1m1 0h1m2 0h5m2 0h1m2 0h1m3 0h1m1 0h1m1 0h3m9 0h1m3 0h1m-69 1h2m1 0h1m1 0h1m3 0h4m1 0h2m1 0h6m3 0h5m2 0h1m1 0h5m2 0h1m1 0h3m9 0h1m1 0h1m6 0h1m1 0h1m8 0h1m-75 1h2m1 0h1m3 0h1m2 0h1m1 0h1m1 0h5m1 0h1m1 0h1m1 0h1m1 0h1m1 0h1m1 0h1m1 0h1m2 0h1m3 0h3m1 0h1m2 0h1m-49 1h1m3 0h1m2 0h1m1 0h1m4 0h6m1 0h7m1 0h1m1 0h1m1 0h2m2 0h2m3 0h1m1 0h1m1 0h2m3 0h1m1 0h1m3 0h1m2 0h2m-60 1h3m3 0h1m1 0h4m1 0h4m1 0h1m1 0h2m1 0h2m1 0h1m2 0h2m1 0h1m5 0h1m2 0h6m3 0h1m6 0h1m1 0h1m4 0h1m11 0h1m-82 1h2m3 0h1m4 0h1m1 0h1m3 0h1m2 0h10m3 0h1m2 0h1m1 0h1m1 0h2m6 0h1m1 0h2m2 0h1m7 0h1m4 0h1m8 0h1m-73 1h1m1 0h1m7 0h1m1 0h5m1 0h5m1 0h1m1 0h1m2 0h2m2 0h3m1 0h1m1 0h3m4 0h2m2 0h2m2 0h3m5 0h2m-62 1h1m1 0h1m3 0h1m1 0h2m1 0h4m1 0h1m1 0h2m1 0h1m6 0h1m1 0h1m2 0h2m1 0h1m1 0h4m2 0h2m1 0h2m1 0h2m1 0h3m2 0h1m2 0h1m2 0h1m5 0h1m-75 1h1m8 0h4m1 0h1m1 0h3m1 0h1m1 0h4m1 0h1m2 0h6m1 0h1m1 0h1m1 0h1m1 0h1m1 0h1m4 0h1m3 0h1m1 0h1m-58 1h1m4 0h2m5 0h3m3 0h4m1 0h1m2 0h4m3 0h2m1 0h3m1 0h1m1 0h2m5 0h3m1 0h1m2 0h1m2 0h1m2 0h2m17 0h1m6 0h1m-82 1h1m1 0h1m5 0h1m2 0h4m1 0h1m2 0h2m1 0h7m1 0h5m1 0h4m1 0h2m3 0h1m1 0h1m1 0h1m3 0h1m1 0h1m4 0h1m6 0h1m3 0h1m-86 1h1m10 0h1m2 0h1m2 0h2m3 0h2m1 0h1m1 0h1m1 0h6m1 0h4m1 0h1m1 0h2m1 0h3m1 0h3m3 0h2m1 0h3m2 0h1m2 0h1m1 0h1m2 0h2m7 0h1m1 0h1m2 0h1m-78 1h1m3 0h1m1 0h4m1 0h12m1 0h2m1 0h1m1 0h6m1 0h1m3 0h2m2 0h1m1 0h1m5 0h1m7 0h1m13 0h1m-74 1h1m1 0h1m3 0h2m1 0h3m1 0h1m2 0h4m1 0h1m1 0h2m1 0h3m1 0h4m3 0h3m2 0h3m1 0h4m4 0h1m2 0h1m1 0h1m1 0h1m4 0h1m4 0h1m-77 1h2m5 0h5m3 0h4m1 0h7m1 0h4m4 0h4m3 0h8m1 0h1m2 0h1m1 0h1m1 0h1m1 0h1m2 0h2m1 0h1m5 0h1m-70 1h2m2 0h1m1 0h1m1 0h1m1 0h1m1 0h2m1 0h1m1 0h9m1 0h5m1 0h5m1 0h4m3 0h1m1 0h3m1 0h3m1 0h1m3 0h2m7 0h1m2 0h1m-74 1h1m1 0h1m3 0h1m1 0h1m3 0h2m1 0h1m1 0h6m3 0h7m1 0h1m1 0h1m2 0h2m3 0h4m3 0h5m1 0h1m2 0h1m3 0h1m1 0h1m-71 1h1m7 0h2m5 0h2m1 0h3m1 0h10m1 0h4m1 0h1m1 0h1m2 0h1m1 0h1m2 0h1m2 0h1m2 0h1m1 0h6m5 0h1m1 0h1m4 0h1m1 0h1m-70 1h1m4 0h1m2 0h2m1 0h1m2 0h6m2 0h1m1 0h1m1 0h1m1 0h7m1 0h1m1 0h3m1 0h1m3 0h3m5 0h1m1 0h1m1 0h1m2 0h1m4 0h3m1 0h1m-65 1h1m4 0h1m1 0h8m1 0h1m1 0h1m1 0h1m1 0h1m1 0h5m2 0h7m2 0h2m1 0h2m3 0h3m1 0h1m1 0h2m2 0h1m1 0h1m4 0h1m-65 1h1m1 0h1m1 0h6m1 0h1m1 0h3m1 0h3m1 0h1m1 0h3m3 0h5m1 0h1m1 0h2m2 0h3m2 0h2m1 0h2m9 0h1m3 0h1m-60 1h1m1 0h4m1 0h17m1 0h2m1 0h4m1 0h4m2 0h1m2 0h4m5 0h3m2 0h1m5 0h1m2 0h1m-69 1h4m1 0h1m1 0h2m1 0h1m1 0h2m1 0h5m2 0h6m2 0h2m3 0h4m1 0h3m7 0h1m1 0h1m2 0h2m3 0h1m1 0h1m-71 1h1m3 0h1m2 0h2m1 0h1m1 0h2m1 0h4m1 0h16m1 0h5m1 0h4m3 0h4m2 0h1m1 0h1m3 0h1m3 0h2m6 0h2m-76 1h1m3 0h1m6 0h1m2 0h3m2 0h8m1 0h4m1 0h6m1 0h2m1 0h1m1 0h3m2 0h3m3 0h2m2 0h1m2 0h1m1 0h1m2 0h1m5 0h2m-65 1h3m1 0h7m1 0h8m2 0h3m3 0h2m3 0h3m1 0h2m1 0h7m1 0h1m1 0h1m3 0h1m1 0h1m2 0h1m1 0h1m3 0h1m-72 1h1m5 0h2m1 0h1m2 0h3m1 0h1m2 0h14m1 0h2m1 0h4m1 0h1m2 0h2m1 0h1m1 0h4m1 0h1m1 0h1m1 0h2m1 0h3m-60 1h1m1 0h1m1 0h1m2 0h1m1 0h5m2 0h1m1 0h6m1 0h3m1 0h2m1 0h3m2 0h6m4 0h1m1 0h2m2 0h2m1 0h2m2 0h1m6 0h1m-81 1h1m10 0h1m4 0h1m1 0h1m1 0h5m2 0h2m2 0h1m3 0h3m2 0h6m1 0h1m1 0h1m7 0h1m1 0h1m2 0h4m4 0h1m1 0h1m5 0h1m1 0h1m-86 1h1m13 0h2m1 0h1m1 0h6m1 0h4m1 0h1m2 0h4m1 0h4m2 0h5m2 0h1m3 0h1m2 0h1m3 0h1m1 0h1m2 0h1m5 0h1m8 0h1m-64 1h1m1 0h2m4 0h12m1 0h3m1 0h2m2 0h1m2 0h2m2 0h2m2 0h1m1 0h4m1 0h1m1 0h3m3 0h2m1 0h1m4 0h1m-63 1h1m1 0h2m1 0h1m3 0h5m1 0h1m1 0h4m1 0h4m1 0h5m4 0h4m1 0h2m1 0h2m1 0h2m2 0h1m3 0h1m1 0h1m1 0h1m-67 1h1m6 0h1m2 0h1m3 0h4m1 0h1m1 0h1m1 0h3m1 0h1m1 0h9m3 0h2m2 0h4m2 0h1m1 0h1m1 0h2m13 0h1m2 0h1m10 0h1m-75 1h1m1 0h1m2 0h1m1 0h1m1 0h9m1 0h21m1 0h2m2 0h2m1 0h2m2 0h2m1 0h1m1 0h1m5 0h2m-63 1h2m1 0h1m3 0h1m1 0h3m2 0h8m1 0h8m2 0h5m1 0h3m3 0h2m6 0h2m9 0h1m-69 1h1m1 0h1m3 0h1m2 0h1m1 0h6m2 0h4m1 0h6m1 0h8m3 0h4m1 0h2m1 0h3m1 0h1m1 0h1m1 0h2m-66 1h1m6 0h1m4 0h1m1 0h2m1 0h1m2 0h3m1 0h14m2 0h2m2 0h1m3 0h1m1 0h3m1 0h7m7 0h1m1 0h1m6 0h1m-64 1h2m1 0h4m2 0h1m1 0h13m1 0h8m2 0h3m4 0h1m2 0h1m1 0h2m7 0h1m1 0h1m-66 1h1m3 0h1m2 0h1m5 0h2m1 0h1m1 0h1m1 0h3m1 0h5m2 0h4m2 0h2m1 0h1m1 0h5m1 0h1m1 0h2m4 0h1m7 0h1m-68 1h1m12 0h1m4 0h1m1 0h3m1 0h1m1 0h4m1 0h1m1 0h8m1 0h2m1 0h1m3 0h2m1 0h2m1 0h2m-43 1h2m1 0h1m3 0h3m1 0h1m1 0h6m1 0h6m1 0h1m2 0h3m1 0h1m1 0h1m1 0h3m4 0h1m-50 1h2m2 0h1m3 0h1m3 0h3m1 0h7m2 0h2m1 0h2m1 0h3m2 0h2m1 0h2m1 0h2m1 0h1m6 0h1m7 0h1m-67 1h1m4 0h1m3 0h1m1 0h1m1 0h1m3 0h2m2 0h19m1 0h2m1 0h3m1 0h1m4 0h2m1 0h2m3 0h1m-57 1h1m4 0h1m2 0h1m2 0h1m1 0h1m1 0h1m2 0h8m1 0h6m1 0h3m2 0h3m1 0h2m2 0h1m7 0h1m-48 1h4m1 0h4m1 0h8m1 0h12m4 0h4m1 0h2m5 0h2m2 0h1m4 0h1m-61 1h1m4 0h1m3 0h6m1 0h3m1 0h3m2 0h3m1 0h2m1 0h4m1 0h1m2 0h3m1 0h6m2 0h1m-57 1h1m4 0h1m4 0h2m6 0h3m1 0h6m1 0h6m1 0h2m1 0h4m1 0h2m1 0h1m3 0h3m-52 1h1m9 0h2m1 0h2m1 0h2m1 0h1m1 0h15m1 0h2m1 0h2m1 0h1m1 0h3m2 0h1m-57 1h1m12 0h1m2 0h1m1 0h1m1 0h5m1 0h23m1 0h2m2 0h2m4 0h1m-44 1h2m4 0h5m1 0h3m1 0h14m3 0h2m1 0h1m3 0h1m1 0h1m-44 1h1m4 0h1m2 0h1m2 0h12m2 0h9m1 0h1m1 0h1m-46 1h1m4 0h2m1 0h2m5 0h2m1 0h1m2 0h9m1 0h2m1 0h1m1 0h3m1 0h1m2 0h5m5 0h1m-42 1h1m3 0h2m1 0h1m1 0h1m1 0h3m1 0h14m2 0h5m2 0h1m-44 1h1m4 0h1m2 0h1m2 0h2m1 0h3m1 0h8m1 0h4m1 0h2m2 0h4m1 0h3m-37 1h1m3 0h12m1 0h13m1 0h2m1 0h2m2 0h1m-40 1h1m1 0h1m2 0h1m2 0h2m2 0h1m1 0h7m1 0h12m4 0h1m5 0h1m-43 1h1m4 0h3m2 0h13m1 0h4m1 0h2m1 0h2m-37 1h1m9 0h4m1 0h6m1 0h3m1 0h4m1 0h2m1 0h6m-35 1h1m1 0h1m2 0h3m1 0h7m1 0h3m1 0h7m1 0h1m1 0h2m4 0h1m2 0h1m-40 1h1m1 0h6m1 0h1m1 0h8m1 0h6m2 0h2m1 0h1m1 0h1m3 0h2m-42 1h1m2 0h3m3 0h2m1 0h5m1 0h8m1 0h2m2 0h1m1 0h3m-40 1h1m7 0h3m3 0h1m2 0h4m1 0h4m1 0h1m1 0h2m1 0h3m1 0h3m4 0h2m-39 1h1m1 0h1m2 0h1m1 0h1m1 0h2m1 0h1m1 0h16m4 0h2m-30 1h1m1 0h2m1 0h2m1 0h2m1 0h5m1 0h6m3 0h2m2 0h1m-35 1h1m1 0h1m1 0h1m1 0h1m1 0h1m2 0h2m1 0h1m1 0h5m1 0h3m1 0h1m1 0h2m1 0h1m-25 1h1m1 0h2m1 0h1m2 0h9m1 0h1m1 0h1m1 0h1m-43 1h1m23 0h1m1 0h9m1 0h1m3 0h3m1 0h1m-22 1h1m1 0h4m1 0h1m2 0h2m1 0h3m1 0h4m-27 1h1m7 0h3m1 0h1m1 0h8m1 0h2m2 0h2m1 0h1m-54 1h1m22 0h1m1 0h1m2 0h1m7 0h1m2 0h3m1 0h1m1 0h4m1 0h2m5 0h1m-22 1h2m1 0h3m1 0h5m1 0h3m6 0h1m-36 1h1m1 0h2m1 0h1m10 0h1m1 0h2m1 0h3m1 0h1m2 0h3m3 0h1m-33 1h1m2 0h1m4 0h1m1 0h3m1 0h2m1 0h1m1 0h1m1 0h6m-24 1h1m2 0h1m1 0h1m1 0h2m4 0h2m1 0h1m1 0h2m5 0h1m3 0h1m-32 1h1m11 0h2m1 0h1m1 0h3m1 0h1m1 0h1m-23 1h1m11 0h2m2 0h2m2 0h1m3 0h3m2 0h1m1 0h1m1 0h1m-35 1h1m1 0h1m1 0h1m5 0h1m2 0h1m1 0h1m4 0h3m1 0h1m2 0h1m2 0h1m-26 1h1m4 0h1m3 0h1m2 0h4m3 0h3m2 0h2m2 0h1m-31 1h1m6 0h2m3 0h1m1 0h1m2 0h2m1 0h2m3 0h2m-20 1h1m3 0h1m4 0h1m4 0h1m-8 1h1m3 0h2m1 0h1m3 0h2m-25 1h1m8 0h2m2 0h4m1 0h1m-4 1h2m4 0h3m-12 1h1m1 0h2m2 0h1m6 0h1m-19 1h1m1 0h1m1 0h2m3 0h2m-8 1h1m7 0h1m-14 1h1m10 0h1m3 0h1m6 0h1m-20 1h1m3 0h1m6 0h1m1 0h1m4 0h1m-40 1h1m26 0h1m2 1h1m-25 2h1m21 0h1m-3 1h1m-1 1h1m-54 184h1m0 2h1m-8 4h1m35 0h1m-26 4h1m-4 2h1m4 0h1m-14 1h1m15 0h1m4 0h1m-9 2h1m-4 1h1m44 0h1m-28 2h1m10 3h1m-44 1h1m44 0h1m12 0h1m-53 2h1m5 0h1m-10 3h1m32 0h1m-38 1h1m40 2h1m-26 1h1m11 0h1m8 3h1m22 0h1m-13 2h1m6 2h1m6 0h1m-17 5h1m20 7h1m-13 11h1"/>
<path stroke="#ffff00" d="M299 135h1m-55 28h1m19 31h1m-16 1h1m35 0h1m19 3h1m-73 4h1m28 6h1m15 6h1m19 4h1m-8 5h1m-64 6h1m88 0h1m-34 2h1m-31 2h1m40 1h1m-65 1h1m3 0h1m65 0h1m14 4h1m-11 1h1m-57 1h1m38 1h1m-64 3h1m58 0h1m9 0h1m8 0h1m-67 4h1m49 0h1m24 0h1m-8 1h1m8 0h1m-21 1h1m8 0h1m-1 1h1m-48 1h1m40 1h1m-15 1h1m12 0h1m-42 1h1m28 0h1m21 1h1m-14 1h1m-56 1h1m23 0h1m23 0h1m10 0h1m-12 2h1m6 0h1m-53 1h1m25 0h1m6 0h1m1 0h1m20 0h1m-47 1h1m46 0h1m-20 1h1m3 0h1m23 0h1m-40 1h1m11 0h1m22 0h1m5 0h1m-28 1h1m2 0h1m9 0h1m3 0h1m1 0h1m12 0h1m-31 1h1m17 0h1m-59 1h1m24 0h1m7 0h1m32 0h1m-60 1h1m30 0h1m1 0h1m6 0h1m18 0h1m-72 1h1m5 0h1m26 0h1m31 0h1m8 0h1m-19 1h1m9 0h1m1 0h1m-32 1h1m6 0h1m1 0h1m15 0h1m2 0h1m-21 1h1m-17 1h1m11 0h1m11 0h1m4 0h1m6 0h1m-66 1h1m35 0h1m2 0h1m13 0h1m-11 1h1m2 0h1m6 0h1m6 0h1m-25 1h1m13 0h1m4 0h1m7 0h1m1 0h2m10 0h1m-47 1h1m21 0h1m1 0h1m2 0h1m8 0h1m6 0h1m-79 1h1m3 0h1m22 0h1m13 0h1m13 0h1m1 0h1m5 0h1m11 0h1m-56 1h1m16 0h1m4 0h1m7 0h1m8 0h1m7 0h2m3 0h2m-35 1h1m3 0h2m5 0h2m3 0h2m3 0h3m3 0h1m1 0h1m6 0h1m11 0h1m-63 1h1m16 0h1m2 0h1m4 0h1m4 0h1m1 0h1m4 0h1m7 0h1m3 0h1m-33 1h1m4 0h1m17 0h1m1 0h1m12 1h1m-16 1h1m6 0h3m1 0h1m-80 1h1m2 0h1m44 0h1m1 0h1m2 0h1m6 0h2m19 0h1m-21 1h1m1 0h1m11 0h2m2 0h1m5 0h2m-33 1h1m14 0h1m1 0h1m2 0h1m4 0h1m2 0h1m1 0h1m-85 1h1m27 0h1m21 0h1m3 0h1m3 0h1m1 0h1m2 0h1m3 0h1m6 0h1m2 0h1m-46 1h1m7 0h1m9 0h2m1 0h1m3 0h1m2 0h1m4 0h1m3 0h1m1 0h1m4 0h1m-58 1h1m30 0h1m2 0h1m2 0h2m6 0h2m5 0h1m2 0h2m3 0h1m-41 1h1m8 0h3m2 0h1m6 0h1m1 0h1m1 0h2m1 0h1m1 0h2m4 0h1m4 0h3m1 0h1m-49 1h1m4 0h1m22 0h1m2 0h3m1 0h2m4 0h1m4 0h1m-65 1h1m9 0h2m18 0h1m5 0h1m1 0h1m2 0h1m1 0h1m2 0h2m1 0h1m4 0h1m6 0h1m4 0h1m-73 1h1m25 0h1m19 0h1m2 0h1m1 0h1m1 0h3m1 0h6m2 0h2m2 0h1m2 0h1m-70 1h1m6 0h1m23 0h1m1 0h1m7 0h1m3 0h1m1 0h1m1 0h2m2 0h3m1 0h2m3 0h3m3 0h1m4 0h1m-49 1h1m5 0h1m6 0h1m5 0h2m1 0h1m1 0h1m4 0h6m1 0h5m-76 1h1m15 0h1m7 0h1m3 0h1m17 0h1m1 0h1m1 0h1m2 0h2m1 0h1m1 0h7m1 0h5m-42 1h1m8 0h3m4 0h2m3 0h2m2 0h3m3 0h1m1 0h1m1 0h1m2 0h4m4 0h2m-63 1h1m7 0h1m22 0h1m4 0h1m2 0h4m1 0h1m1 0h1m1 0h1m1 0h4m1 0h2m2 0h1m2 0h1m6 0h1m-91 1h1m8 0h1m37 0h1m1 0h1m1 0h1m4 0h1m5 0h1m2 0h1m4 0h2m3 0h2m1 0h1m2 0h1m-52 1h1m18 0h2m3 0h1m7 0h1m2 0h2m1 0h2m4 0h2m1 0h3m1 0h1m3 0h1m-92 1h1m58 0h1m2 0h1m3 0h1m2 0h2m1 0h4m1 0h5m1 0h2m1 0h1m2 0h1m-67 1h1m42 0h3m1 0h2m2 0h2m1 0h3m1 0h3m3 0h1m1 0h3m-59 1h1m8 0h1m1 0h1m13 0h2m1 0h2m1 0h2m3 0h2m1 0h5m1 0h2m1 0h3m1 0h2m7 0h1m4 0h1m-54 1h1m7 0h1m4 0h1m3 0h2m1 0h1m1 0h2m1 0h3m2 0h5m7 0h1m1 0h1m4 0h1m-33 1h4m1 0h1m1 0h1m6 0h1m1 0h3m2 0h1m1 0h1m1 0h1m2 0h1m-70 1h1m4 0h1m14 0h1m10 0h2m1 0h1m1 0h1m5 0h1m1 0h1m1 0h1m1 0h1m2 0h6m1 0h4m1 0h2m1 0h1m1 0h1m1 0h1m2 0h1m-59 1h1m13 0h1m1 0h1m2 0h1m7 0h1m4 0h1m1 0h1m1 0h4m1 0h2m1 0h2m1 0h1m2 0h2m14 0h1m-62 1h1m6 0h1m1 0h2m2 0h1m5 0h1m1 0h1m4 0h1m2 0h1m1 0h4m1 0h4m2 0h1m3 0h1m3 0h1m-79 1h1m4 0h1m33 0h1m7 0h1m5 0h2m2 0h1m1 0h3m1 0h7m3 0h1m2 0h1m2 0h1m6 0h1m-83 1h1m25 0h2m9 0h1m2 0h3m2 0h4m2 0h1m1 0h1m2 0h6m1 0h1m1 0h1m1 0h3m-59 1h1m42 0h1m3 0h11m2 0h1m-54 1h1m30 0h1m2 0h2m1 0h1m1 0h1m1 0h3m1 0h2m4 0h1m-49 1h1m25 0h1m5 0h1m1 0h3m1 0h2m1 0h1m2 0h4m1 0h1m3 0h1m-51 1h1m1 0h1m13 0h1m7 0h1m4 0h2m3 0h1m1 0h2m2 0h1m5 0h1m-76 1h1m26 0h1m17 0h1m11 0h6m1 0h2m3 0h3m3 0h1m3 0h1m1 0h1m7 0h1m-104 1h1m42 0h1m13 0h1m4 0h3m11 0h1m1 0h1m1 0h1m5 0h3m3 0h1m1 0h2m-80 1h1m42 0h1m5 0h5m8 0h2m3 0h1m4 0h1m-38 1h1m5 0h1m4 0h1m1 0h1m7 0h1m1 0h1m1 0h1m6 0h1m1 0h1m1 0h3m2 0h1m-55 1h1m4 0h1m7 0h1m1 0h1m2 0h1m9 0h1m3 0h2m2 0h3m2 0h2m1 0h4m3 0h2m-50 1h1m8 0h1m5 0h1m15 0h1m1 0h1m2 0h1m1 0h2m2 0h1m-48 1h1m2 0h2m18 0h1m4 0h3m4 0h2m1 0h1m1 0h1m3 0h1m2 0h1m3 0h1m2 0h1m-67 1h1m10 0h1m25 0h1m1 0h1m1 0h1m5 0h1m2 0h2m2 0h1m3 0h1m1 0h1m2 0h1m-81 1h1m10 0h1m11 0h1m27 0h1m5 0h1m4 0h1m7 0h1m15 0h1m-77 1h1m37 0h1m9 0h2m4 0h1m7 0h1m3 0h1m11 0h1m-73 1h1m22 0h1m9 0h1m2 0h2m9 0h1m1 0h1m8 0h2m-75 1h1m44 0h1m1 0h1m-39 1h1m16 0h1m24 0h1m3 0h1m14 0h1m-63 1h1m25 0h1m17 0h1m2 0h1m6 0h1m-54 1h1m41 0h1m11 0h2m3 0h1m3 0h1m-69 1h1m26 0h1m2 0h1m20 0h1m5 0h1m2 0h2m1 0h1m8 0h1m-67 1h1m1 0h1m5 0h1m23 0h2m8 0h2m7 0h1m1 0h1m-5 1h1m1 0h1m-35 1h1m18 0h1m17 0h2m-44 1h1m8 0h1m24 0h2m14 0h1m-67 1h1m11 0h1m22 0h1m16 0h1m7 0h1m-51 1h1m2 0h1m31 0h1m1 0h1m3 1h1m1 0h1m3 0h1m2 0h1m-72 1h1m23 0h1m30 0h1m-4 1h1m3 0h1m1 0h1m1 0h2m3 0h2m1 0h1m-63 1h1m3 0h1m8 0h1m13 0h1m2 0h1m30 0h1m-44 1h1m4 0h1m15 0h1m21 0h1m-48 1h2m14 0h1m2 0h1m7 0h1m10 0h2m-32 1h1m3 0h1m6 0h1m25 0h1m-64 1h1m17 0h1m11 0h1m1 0h1m13 0h1m4 0h1m3 0h1m1 0h1m-32 1h1m8 0h1m9 0h1m11 0h1m-49 1h1m27 0h1m5 0h2m16 0h1m-48 1h1m26 0h1m12 0h1m7 0h1m-49 1h1m32 0h1m7 0h3m1 0h1m-51 1h1m2 0h1m9 0h1m23 0h1m16 0h1m-58 1h1m2 0h1m13 0h1m14 0h1m7 0h1m22 0h1m-30 1h1m15 0h2m3 0h2m5 0h1m-51 1h1m10 0h1m4 0h1m29 0h1m-60 1h1m1 0h1m16 0h1m5 0h2m3 0h1m6 0h1m5 0h1m6 0h2m-40 1h1m5 0h1m15 0h1m8 0h1m3 0h1m14 0h1m-66 1h1m15 0h1m49 0h1m-72 1h1m7 0h1m4 0h1m5 0h1m7 0h1m2 0h1m20 0h1m11 0h1m2 0h1m1 0h1m-72 1h1m16 0h1m2 0h1m1 0h1m3 0h1m16 0h1m18 0h1m6 0h1m7 0h1m-53 1h1m6 0h1m33 0h1m10 0h1m-59 1h1m11 0h1m9 0h1m20 0h2m-46 1h1m12 0h1m2 0h1m3 0h1m30 0h1m-62 1h1m5 0h1m3 0h1m6 0h1m46 0h1m-59 1h1m8 0h1m27 0h2m1 0h1m12 0h1m2 0h2m-47 1h2m9 0h1m30 0h1m-51 1h2m3 0h1m7 0h1m3 0h1m3 0h1m2 0h1m7 0h1m13 0h1m6 0h1m-55 1h1m1 0h1m2 0h1m15 0h1m15 0h1m5 0h1m8 0h1m-32 1h1m10 0h1m14 0h1m-55 1h1m2 0h1m60 0h1m-68 1h3m25 0h1m20 0h1m-51 1h1m1 0h1m5 0h1m2 0h2m5 0h2m-15 1h2m17 0h1m3 0h3m2 0h1m-29 1h1m3 0h1m9 0h1m7 0h1m15 0h2m11 0h1m-56 1h1m5 0h1m4 0h1m3 0h1m3 0h1m4 0h1m4 0h1m1 0h1m2 0h1m3 0h1m12 0h1m14 0h1m-67 1h1m5 0h2m5 0h1m1 0h1m1 0h3m13 0h1m7 0h1m4 0h1m12 0h1m5 0h1m-69 1h1m8 0h1m2 0h1m4 0h1m11 0h1m5 0h1m1 0h1m10 0h1m26 0h1m-73 1h1m2 0h1m6 0h2m9 0h2m4 0h1m28 0h1m-66 1h1m10 0h1m4 0h1m6 0h1m1 0h2m3 0h1m2 0h1m8 0h1m5 0h1m3 0h1m2 0h1m-43 1h1m3 0h1m2 0h1m9 0h2m3 0h1m2 0h1m2 0h1m19 0h1m-44 1h1m7 0h2m4 0h2m2 0h1m2 0h1m8 0h1m18 0h1m-56 1h1m2 0h2m6 0h1m4 0h1m2 0h1m19 0h1m3 0h1m4 0h1m8 0h1m-62 1h3m4 0h2m2 0h2m3 0h2m1 0h1m2 0h1m3 0h1m3 0h2m11 0h1m8 0h1m-32 1h1m5 0h1m17 0h1m20 0h1m-63 1h1m5 0h2m2 0h2m1 0h1m2 0h2m5 0h1m17 0h1m-44 1h1m6 0h1m3 0h1m1 0h1m3 0h1m3 0h2m17 0h1m-33 1h1m4 0h1m3 0h1m4 0h2m7 0h1m7 0h2m-42 1h1m7 0h1m3 0h1m1 0h3m3 0h1m2 0h1m1 0h2m-22 1h1m1 0h2m4 0h1m1 0h2m2 0h1m2 0h1m6 0h1m6 0h1m2 0h1m8 0h1m14 0h1m-61 1h1m1 0h1m2 0h1m3 0h1m7 0h1m1 0h1m10 0h1m17 0h3m4 0h1m-63 1h1m4 0h1m6 0h1m2 0h1m1 0h1m4 0h2m2 0h2m2 0h1m4 0h1m2 0h1m2 0h1m8 0h3m15 0h1m-68 1h1m4 0h1m1 0h1m2 0h1m1 0h1m1 0h2m2 0h1m1 0h1m2 0h1m2 0h2m1 0h1m2 0h1m1 0h1m1 0h1m1 0h2m7 0h1m1 0h1m-43 1h1m1 0h2m1 0h1m4 0h3m1 0h3m2 0h2m5 0h1m5 0h1m4 0h1m6 0h1m7 0h1m4 0h1m-58 1h1m1 0h3m3 0h1m1 0h4m4 0h2m3 0h1m4 0h1m9 0h1m7 0h1m-49 1h1m4 0h3m1 0h1m1 0h3m1 0h1m1 0h1m1 0h1m3 0h1m2 0h1m1 0h1m7 0h1m3 0h2m2 0h1m11 0h1m9 0h1m-58 1h1m1 0h1m7 0h1m2 0h1m4 0h2m8 0h1m5 0h1m-44 1h1m5 0h2m1 0h1m2 0h1m1 0h2m1 0h1m1 0h1m2 0h1m2 0h1m2 0h1m3 0h1m6 0h2m-50 1h1m4 0h1m5 0h1m2 0h1m2 0h4m1 0h1m4 0h1m2 0h1m1 0h1m6 0h1m1 0h1m4 0h3m22 0h1m-68 1h1m9 0h4m3 0h2m1 0h1m4 0h1m3 0h2m1 0h1m1 0h1m5 0h2m14 0h1m-54 1h1m1 0h1m4 0h2m1 0h2m1 0h3m1 0h1m2 0h1m2 0h3m5 0h1m2 0h1m1 0h1m8 0h2m1 0h1m6 0h1m-57 1h1m8 0h1m5 0h1m2 0h4m7 0h1m2 0h3m3 0h1m1 0h1m13 0h1m-58 1h1m3 0h1m6 0h1m1 0h1m6 0h2m3 0h6m4 0h4m2 0h1m1 0h2m5 0h1m2 0h1m3 0h1m-48 1h1m4 0h1m5 0h1m1 0h1m3 0h2m1 0h1m3 0h1m2 0h1m4 0h1m1 0h1m1 0h1m2 0h2m8 0h2m3 0h1m-59 1h3m3 0h2m3 0h2m1 0h1m2 0h1m4 0h3m5 0h3m2 0h1m1 0h1m2 0h1m5 0h1m1 0h1m9 0h1m7 0h1m-63 1h1m2 0h2m2 0h2m1 0h2m1 0h3m1 0h2m2 0h1m3 0h2m1 0h1m2 0h1m12 0h2m3 0h1m9 0h1m-67 1h1m6 0h3m1 0h3m3 0h3m3 0h2m3 0h3m4 0h1m1 0h2m3 0h2m2 0h1m2 0h1m5 0h1m3 0h1m11 0h1m-73 1h1m3 0h1m1 0h1m1 0h4m3 0h2m3 0h2m3 0h2m1 0h2m3 0h5m2 0h1m3 0h1m4 0h2m-51 1h1m1 0h1m3 0h1m2 0h3m2 0h6m1 0h4m4 0h5m2 0h1m1 0h1m1 0h2m3 0h1m27 0h1m-76 1h1m9 0h1m1 0h2m1 0h2m1 0h2m3 0h4m3 0h1m3 0h3m1 0h1m10 0h1m1 0h1m5 0h1m6 0h1m7 0h1m-69 1h1m2 0h2m2 0h1m1 0h1m1 0h4m1 0h2m1 0h2m2 0h1m1 0h2m2 0h4m1 0h2m2 0h1m1 0h1m4 0h1m15 0h1m4 0h1m-63 1h1m2 0h3m1 0h1m1 0h6m1 0h2m1 0h1m4 0h3m1 0h1m1 0h3m1 0h1m2 0h1m5 0h1m7 0h1m7 0h1m2 0h1m-60 1h6m2 0h2m1 0h2m1 0h1m3 0h1m1 0h1m3 0h4m1 0h1m3 0h2m4 0h1m2 0h3m11 0h1m-66 1h1m3 0h1m1 0h2m5 0h1m1 0h2m2 0h2m1 0h11m3 0h5m2 0h2m5 0h1m8 0h2m10 0h1m-70 1h1m6 0h5m1 0h10m1 0h5m3 0h2m2 0h1m1 0h2m2 0h1m2 0h2m3 0h1m1 0h1m2 0h1m3 0h1m4 0h1m1 0h1m-72 1h1m4 0h1m2 0h5m1 0h3m1 0h3m1 0h1m1 0h2m1 0h2m1 0h4m4 0h2m2 0h1m1 0h2m1 0h1m2 0h1m8 0h1m6 0h1m1 0h1m3 0h1m-67 1h1m3 0h16m1 0h1m1 0h3m1 0h1m1 0h4m1 0h1m5 0h2m2 0h1m1 0h1m2 0h1m5 0h3m-62 1h1m3 0h1m2 0h1m4 0h2m3 0h1m1 0h3m1 0h3m1 0h1m1 0h2m1 0h1m1 0h3m1 0h1m6 0h1m1 0h1m1 0h1m6 0h1m1 0h1m5 0h1m3 0h1m-62 1h1m1 0h1m2 0h2m1 0h1m1 0h11m1 0h2m1 0h3m2 0h1m5 0h1m4 0h3m1 0h2m1 0h1m-49 1h1m3 0h1m3 0h2m1 0h2m1 0h7m2 0h5m2 0h1m2 0h1m2 0h2m3 0h2m1 0h1m1 0h1m1 0h1m8 0h1m2 0h1m-62 1h1m7 0h6m3 0h1m1 0h5m1 0h12m1 0h2m3 0h1m3 0h1m3 0h1m6 0h4m3 0h1m-63 1h1m1 0h8m1 0h16m1 0h2m1 0h3m4 0h1m3 0h2m1 0h4m2 0h2m6 0h1m-58 1h1m3 0h14m1 0h2m1 0h1m1 0h4m2 0h6m1 0h2m6 0h1m2 0h2m1 0h2m7 0h2m-63 1h11m2 0h8m1 0h4m1 0h1m2 0h2m1 0h2m3 0h1m4 0h1m4 0h1m2 0h3m-66 1h1m14 0h2m1 0h6m1 0h6m1 0h3m1 0h1m1 0h1m1 0h2m3 0h2m5 0h3m4 0h1m1 0h1m1 0h1m2 0h1m2 0h2m-64 1h2m3 0h2m1 0h1m1 0h11m1 0h3m2 0h3m1 0h3m1 0h5m1 0h7m3 0h1m5 0h1m2 0h2m1 0h1m1 0h1m-63 1h1m2 0h1m1 0h1m2 0h4m1 0h15m1 0h5m1 0h1m4 0h2m2 0h1m7 0h1m4 0h1m2 0h2m5 0h1m-66 1h1m1 0h3m1 0h2m4 0h7m1 0h3m1 0h6m1 0h12m1 0h1m1 0h1m2 0h1m1 0h1m4 0h1m5 0h1m-61 1h1m2 0h1m1 0h1m1 0h12m1 0h1m2 0h5m1 0h5m1 0h4m4 0h1m1 0h5m3 0h2m10 0h1m-71 1h1m1 0h1m6 0h1m2 0h1m2 0h4m1 0h6m1 0h2m1 0h5m4 0h1m5 0h2m6 0h1m2 0h1m10 0h1m-61 1h1m3 0h6m1 0h11m1 0h2m1 0h5m1 0h3m4 0h1m1 0h2m3 0h2m2 0h2m2 0h1m2 0h3m-69 1h1m5 0h1m1 0h3m2 0h1m1 0h7m1 0h8m1 0h4m1 0h1m1 0h2m2 0h1m2 0h3m3 0h4m1 0h1m1 0h1m1 0h1m2 0h1m-54 1h1m2 0h3m1 0h1m1 0h5m1 0h13m1 0h7m3 0h2m1 0h2m3 0h1m1 0h1m4 0h1m6 0h1m-62 1h1m4 0h6m3 0h8m1 0h8m2 0h1m2 0h6m1 0h3m2 0h1m1 0h1m2 0h1m-54 1h2m4 0h1m1 0h14m1 0h6m1 0h4m1 0h3m1 0h3m1 0h3m1 0h4m2 0h2m1 0h1m-59 1h1m2 0h2m1 0h1m1 0h2m1 0h2m2 0h3m1 0h4m1 0h1m1 0h3m1 0h5m1 0h2m1 0h2m3 0h2m1 0h5m2 0h1m2 0h1m-65 1h1m11 0h1m1 0h3m1 0h1m1 0h3m1 0h2m1 0h3m1 0h5m2 0h1m1 0h1m2 0h2m1 0h1m1 0h2m2 0h1m1 0h1m1 0h1m1 0h1m2 0h1m-58 1h2m7 0h1m3 0h1m1 0h2m2 0h1m3 0h5m2 0h7m1 0h6m3 0h4m3 0h1m2 0h3m-57 1h2m1 0h1m3 0h1m1 0h2m1 0h1m3 0h7m1 0h1m1 0h2m1 0h1m1 0h2m1 0h1m2 0h3m1 0h4m2 0h1m2 0h1m1 0h1m5 0h2m-52 1h1m4 0h1m1 0h2m1 0h1m2 0h1m1 0h2m1 0h1m1 0h13m1 0h3m1 0h3m1 0h1m2 0h1m2 0h3m-54 1h1m4 0h1m4 0h5m2 0h4m2 0h1m1 0h7m1 0h1m2 0h1m1 0h1m1 0h1m2 0h4m1 0h1m2 0h1m1 0h1m1 0h1m-61 1h1m4 0h1m1 0h1m11 0h2m1 0h1m1 0h6m1 0h4m2 0h2m1 0h7m1 0h1m1 0h1m1 0h3m2 0h1m-48 1h1m2 0h2m1 0h1m1 0h2m4 0h2m2 0h6m1 0h6m1 0h5m2 0h1m2 0h2m-44 1h1m6 0h1m1 0h3m2 0h1m2 0h1m1 0h1m3 0h8m2 0h3m1 0h1m3 0h2m1 0h3m1 0h2m-44 1h1m2 0h1m1 0h2m2 0h7m1 0h1m1 0h2m1 0h5m1 0h5m1 0h1m1 0h1m1 0h1m1 0h3m-46 1h1m3 0h1m1 0h1m1 0h3m7 0h1m1 0h2m2 0h2m2 0h4m3 0h1m1 0h2m1 0h2m4 0h1m-48 1h1m2 0h1m9 0h2m4 0h6m2 0h3m2 0h1m1 0h2m1 0h3m1 0h2m1 0h1m1 0h2m-38 1h2m2 0h1m2 0h1m2 0h4m1 0h1m1 0h6m1 0h4m1 0h2m2 0h1m-43 1h1m2 0h2m1 0h1m2 0h1m7 0h1m2 0h3m2 0h3m3 0h1m2 0h3m1 0h2m1 0h3m1 0h1m-41 1h1m7 0h1m10 0h1m1 0h4m1 0h2m1 0h1m1 0h3m1 0h1m1 0h1m1 0h1m-30 1h1m4 0h1m4 0h1m2 0h3m1 0h1m1 0h1m2 0h1m1 0h4m1 0h1m1 0h1m-37 1h1m3 0h1m5 0h2m1 0h1m1 0h1m3 0h1m1 0h2m1 0h4m1 0h3m1 0h2m1 0h1m-32 1h1m3 0h2m1 0h3m5 0h4m2 0h2m1 0h1m1 0h4m3 0h1m-57 1h1m24 0h1m4 0h5m2 0h2m5 0h2m2 0h1m2 0h2m2 0h1m-31 1h1m8 0h2m3 0h1m2 0h1m1 0h1m2 0h1m1 0h2m6 0h1m-44 1h1m4 0h1m6 0h1m1 0h1m5 0h1m4 0h1m3 0h2m4 0h1m1 0h1m1 0h1m-31 1h1m9 0h1m1 0h1m3 0h1m1 0h1m1 0h3m2 0h2m4 0h2m-18 1h2m6 0h3m2 0h2m1 0h1m1 0h2m-50 1h1m5 0h1m8 0h1m10 0h1m4 0h1m2 0h1m4 0h1m-22 1h1m2 0h1m1 0h1m7 0h1m3 0h1m9 0h1m-21 1h1m4 0h1m12 0h2m-6 1h1m2 0h3m3 0h2m-11 1h2m1 0h1m3 0h2m-34 1h1m15 0h1m1 0h1m1 0h1m2 0h1m1 0h2m7 0h1m-22 1h1m6 0h1m3 1h1m6 0h1m-27 1h1m4 0h1m7 0h1m6 1h1m8 0h1m-2 1h1m-21 1h1m1 0h1m10 0h1m0 1h1m-10 1h1m-2 1h1m2 1h1m10 1h1m4 1h1m-12 2h1m-19 8h1m-28 162h1m-22 6h1m32 3h1m-21 8h1m43 1h1m-12 2h1m9 8h1m-7 1h1m14 0h1m-38 5h1m2 3h1m-11 3h1m48 6h1"/>
<path stroke="#ffc000" d="M312 122h1m-1 124h1m4 4h1m-5 2h1m-3 4h1m-1 4h1m-1 1h1m3 1h1m3 1h1m-22 2h1m8 0h1m9 1h1m2 0h1m9 2h1m-17 1h1m-3 2h1m-13 1h1m29 0h1m-26 1h1m12 0h1m1 0h1m5 0h1m-20 1h1m7 0h1m1 0h1m-12 1h1m8 0h1m-11 1h1m-7 1h1m19 1h1m-21 1h1m29 0h1m3 1h1m-14 1h1m1 1h1m1 0h1m-10 1h1m6 0h1m4 0h1m2 0h1m-11 1h1m5 1h1m10 0h1m-33 1h1m10 0h1m6 0h1m-16 1h1m3 0h1m5 0h1m-7 1h1m4 0h1m5 0h1m1 0h1m1 0h1m-25 1h1m12 0h1m-21 1h1m5 0h1m9 0h1m4 0h1m10 0h1m-19 1h1m1 0h1m3 0h1m7 0h1m-19 1h1m1 0h1m2 0h1m5 0h1m9 0h1m-16 1h3m-15 1h1m3 0h2m4 0h1m1 0h1m1 0h1m1 0h2m2 0h1m4 0h2m3 0h1m-22 1h1m4 0h1m4 0h1m2 0h1m2 0h1m-26 1h2m3 0h1m2 0h3m3 0h3m1 0h1m1 0h1m3 0h1m-10 1h1m8 0h1m5 0h1m-27 1h1m7 0h3m3 0h1m2 0h1m4 0h1m-17 1h4m2 0h1m1 0h2m4 0h2m1 0h1m-17 1h1m5 0h3m1 0h1m2 0h1m8 0h2m-31 1h1m1 0h1m2 0h1m1 0h1m2 0h2m1 0h2m1 0h1m6 0h1m1 0h1m-25 1h1m2 0h1m5 0h3m2 0h2m3 0h1m-36 1h1m12 0h1m5 0h1m5 0h1m1 0h1m3 0h1m2 0h1m12 0h1m-27 1h3m1 0h1m4 0h2m1 0h1m10 0h1m-21 1h1m1 0h2m2 0h1m1 0h2m1 0h1m1 0h1m-26 1h1m6 0h3m1 0h2m1 0h1m2 0h3m5 0h1m-27 1h1m1 0h1m1 0h1m3 0h1m4 0h1m1 0h2m4 0h1m2 0h2m6 0h1m-28 1h1m4 0h1m2 0h1m1 0h1m1 0h1m2 0h1m3 0h1m2 0h1m-34 1h1m11 0h1m2 0h1m5 0h2m1 0h3m1 0h1m5 0h1m-21 1h2m2 0h2m1 0h1m1 0h1m2 0h2m2 0h2m1 0h1m4 0h1m-31 1h1m7 0h2m2 0h1m2 0h1m7 0h1m2 0h1m2 0h1m-26 1h1m1 0h1m1 0h1m3 0h1m1 0h2m3 0h3m1 0h2m2 0h1m-17 1h2m1 0h7m4 0h1m1 0h1m-24 1h1m4 0h2m1 0h2m2 0h4m3 0h1m-19 1h1m5 0h1m6 0h1m5 0h1m1 0h1m-19 1h1m2 0h1m1 0h2m2 0h2m7 0h1m-24 1h1m1 0h1m3 0h2m2 0h1m1 0h1m5 0h1m-18 1h1m7 0h1m1 0h1m1 0h1m2 0h2m10 0h1m-27 1h1m3 0h2m1 0h2m5 0h1m1 0h1m7 0h1m-28 1h1m1 0h2m7 0h2m-5 1h1m4 0h2m2 0h1m-16 1h2m3 0h1m3 0h2m3 0h1m-19 1h1m1 0h1m5 0h2m1 0h1m-10 1h1m1 0h1m1 0h1m2 0h1m4 0h1m1 0h1m-18 1h1m10 0h1m1 0h3m3 0h3m-17 1h2m1 0h1m6 0h1m5 0h1m3 0h1m-15 1h2m1 0h1m-16 1h1m4 0h1m14 0h1m-10 1h1m2 0h1m3 0h1m-21 1h1m3 0h1m17 0h1m-17 1h1m-4 1h1m6 1h1m0 4h1m-13 2h2m5 0h1m4 3h1m-12 3h1m0 1h1m2 1h1m-1 5h1m-1 3h1m-4 1h1m2 3h1m-3 3h1m2 10h1m0 2h1m-8 1h1m2 0h1m2 7h1m5 2h1m-11 4h1m-1 8h1m1 1h1m-3 4h1m8 11h1m-6 1h1m4 0h1m-7 1h2m-1 1h1m-7 1h1m2 6h1m-3 3h1m1 0h1m3 0h1m-8 3h1m4 1h1m-8 1h1m9 0h1m-6 3h1m4 0h1m-4 1h1m4 0h1m-7 1h1m2 0h2m-10 2h1m8 1h1m-6 1h1m-1 1h1m0 1h2m6 0h1m-8 1h2m0 1h1m-6 1h1m1 0h1m8 0h1m-13 1h1m-2 1h4m4 0h1m-6 2h1m1 0h1m-4 1h1m1 0h3m-8 1h1m4 0h1m3 0h1m4 0h1m-10 1h1m3 0h1m-6 1h1m3 0h1m-6 1h1m2 0h1m1 0h1m-7 1h1m4 0h1m-5 1h1m3 0h1m1 0h1m-5 1h1m-1 1h2m2 0h1m-3 1h1m1 0h1m2 0h1m-16 1h1m6 0h1m0 1h1m2 0h1m1 0h1m-10 1h1m1 0h1m6 0h1m-3 1h2m-6 1h1m9 3h1m-15 2h1m7 0h1m-5 1h1m2 0h1m3 0h1m1 2h1m-9 5h1m1 3h1m-7 1h1m6 204h1m-2 1h1"/>
<path stroke="#ff8c00" d="M400 118h1m-7 6h1m43 4h1m-4 7h1m-37 4h1m34 10h1m4 22h1m-106 4h1m24 12h1m82 1h1m7 3h1m-86 4h1m8 9h1m13 0h1m47 1h1m-78 1h1m57 4h1m-61 2h1m74 0h2m-11 2h1m12 0h1m-14 1h1m-4 1h1m9 0h1m-78 1h1m35 0h1m41 3h1m11 0h1m-94 1h1m82 0h1m-102 1h1m36 0h1m48 0h1m11 1h1m1 0h1m-8 1h1m11 0h1m-65 1h1m11 0h1m13 0h1m25 0h1m3 0h1m1 0h1m8 1h1m-86 1h1m68 1h1m1 0h1m-72 2h1m5 0h1m59 0h1m18 0h1m4 0h1m-64 1h1m48 0h1m2 0h1m-105 1h1m54 0h1m34 0h1m19 0h1m-24 1h1m16 0h1m4 0h1m-70 1h1m53 0h1m3 0h1m5 0h1m3 0h1m-13 1h1m15 0h1m-100 1h1m3 0h1m4 0h2m12 0h1m77 0h1m-113 1h1m32 0h1m26 0h1m31 0h2m1 0h1m4 0h1m1 0h1m-55 1h1m24 0h1m5 0h1m22 0h1m2 0h1m-40 1h1m9 0h1m20 0h2m1 0h1m2 0h1m2 0h1m3 0h1m-123 1h1m19 0h1m25 0h1m54 0h2m-6 1h1m5 0h1m3 0h1m6 0h2m5 0h1m-68 1h1m6 0h1m24 0h1m2 0h1m2 0h1m4 0h1m6 0h1m3 0h1m6 0h2m-59 1h1m4 0h1m36 0h1m4 0h2m15 0h1m-53 1h1m2 0h1m8 0h1m17 0h1m11 0h1m5 0h2m2 0h1m2 0h1m1 0h1m-76 1h1m18 0h1m15 0h1m10 0h1m7 0h1m2 0h1m6 0h1m2 0h2m-121 1h1m38 0h1m6 0h1m19 0h1m2 0h1m17 0h1m2 0h2m2 0h1m1 0h1m2 0h1m2 0h1m6 0h1m3 0h2m3 0h1m8 0h1m-127 1h1m45 0h1m16 0h1m28 0h1m14 0h1m1 0h2m1 0h1m6 0h1m2 0h1m-99 1h1m8 0h1m2 0h1m5 0h1m12 0h1m21 0h1m1 0h2m5 0h1m4 0h1m4 0h1m6 0h1m3 0h2m10 0h5m-93 1h1m35 0h1m15 0h2m12 0h1m14 0h1m2 0h1m14 0h1m-97 1h1m11 0h1m5 0h2m17 0h2m6 0h1m13 0h1m10 0h1m2 0h2m8 0h1m13 0h1m-76 1h1m12 0h1m23 0h1m1 0h2m1 0h2m3 0h1m9 0h1m4 0h1m3 0h1m-89 1h1m13 0h1m2 0h1m5 0h1m16 0h1m4 0h2m13 0h1m9 0h1m5 0h1m2 0h1m2 0h2m2 0h1m-106 1h1m12 0h1m14 0h1m1 0h1m4 0h1m8 0h1m1 0h1m8 0h1m1 0h1m1 0h1m2 0h1m19 0h1m1 0h1m6 0h1m2 0h1m1 0h2m11 0h2m-133 1h1m66 0h1m11 0h1m1 0h1m6 0h1m5 0h1m4 0h1m2 0h1m11 0h2m2 0h1m1 0h4m7 0h1m-87 1h1m5 0h1m20 0h2m16 0h1m8 0h1m4 0h2m15 0h1m1 0h1m11 0h1m-107 1h1m16 0h1m6 0h1m16 0h1m6 0h1m6 0h1m6 0h1m1 0h3m9 0h2m9 0h1m3 0h1m2 0h2m6 0h1m-121 1h1m15 0h2m5 0h1m3 0h1m11 0h1m21 0h1m1 0h1m1 0h1m16 0h1m1 0h1m7 0h1m1 0h1m4 0h1m2 0h1m4 0h1m7 0h1m-107 1h1m4 0h1m10 0h1m1 0h1m23 0h2m10 0h1m9 0h1m17 0h1m4 0h1m5 0h1m8 0h1m12 0h1m-105 1h1m5 0h1m35 0h1m9 0h1m1 0h1m1 0h1m33 0h1m3 0h1m8 0h1m-135 1h1m24 0h1m2 0h2m36 0h1m4 0h1m7 0h2m1 0h2m6 0h1m7 0h1m3 0h1m5 0h1m7 0h1m2 0h2m5 0h2m-80 1h1m7 0h1m1 0h2m31 0h4m3 0h1m1 0h1m9 0h1m2 0h1m2 0h1m2 0h1m5 0h1m3 0h1m-90 1h1m15 0h1m1 0h1m3 0h2m2 0h2m4 0h1m4 0h1m1 0h1m1 0h1m2 0h1m5 0h2m1 0h2m6 0h1m1 0h1m2 0h2m1 0h1m6 0h2m4 0h1m-125 1h1m14 0h1m1 0h1m37 0h1m14 0h1m6 0h1m4 0h1m3 0h2m1 0h2m4 0h1m6 0h1m3 0h2m4 0h1m1 0h1m1 0h1m4 0h1m2 0h2m3 0h1m-125 1h1m15 0h1m12 0h1m10 0h1m3 0h1m4 0h1m6 0h1m1 0h1m12 0h1m8 0h1m6 0h1m2 0h1m1 0h1m7 0h1m3 0h1m1 0h2m3 0h1m2 0h3m5 0h1m7 0h1m-108 1h1m10 0h1m2 0h1m1 0h1m3 0h1m1 0h1m15 0h1m7 0h1m4 0h1m4 0h2m2 0h1m2 0h1m1 0h1m5 0h1m6 0h2m3 0h1m3 0h1m3 0h1m1 0h1m1 0h1m4 0h2m-100 1h1m8 0h1m1 0h1m8 0h1m5 0h1m3 0h1m5 0h2m2 0h1m4 0h1m2 0h1m2 0h1m10 0h1m9 0h1m1 0h1m5 0h1m3 0h1m6 0h2m10 0h1m-109 1h1m5 0h2m4 0h1m2 0h2m7 0h1m2 0h1m4 0h1m3 0h2m2 0h1m11 0h1m4 0h1m4 0h1m8 0h1m4 0h2m2 0h1m3 0h2m3 0h1m1 0h3m1 0h2m2 0h1m-101 1h2m14 0h1m3 0h1m17 0h3m2 0h1m13 0h1m5 0h2m3 0h1m3 0h2m2 0h4m3 0h3m1 0h1m1 0h1m4 0h1m2 0h3m2 0h1m7 0h1m-103 1h1m6 0h2m11 0h1m6 0h1m6 0h2m5 0h1m1 0h1m4 0h1m2 0h4m1 0h1m1 0h1m2 0h2m2 0h1m5 0h2m1 0h1m2 0h1m2 0h2m2 0h1m5 0h1m10 0h1m1 0h1m3 0h1m-126 1h1m13 0h1m4 0h1m2 0h1m1 0h1m3 0h1m4 0h1m15 0h1m6 0h1m7 0h1m1 0h2m5 0h1m7 0h3m2 0h2m7 0h1m1 0h1m2 0h2m5 0h1m6 0h1m4 0h2m-111 1h1m13 0h1m1 0h2m8 0h1m4 0h2m2 0h1m12 0h3m4 0h1m1 0h1m1 0h1m3 0h2m3 0h1m1 0h1m3 0h1m3 0h1m1 0h2m2 0h1m3 0h1m7 0h1m10 0h1m1 0h1m1 0h1m-126 1h1m4 0h1m17 0h1m2 0h3m1 0h3m14 0h2m12 0h4m3 0h2m2 0h2m1 0h1m5 0h1m1 0h1m2 0h1m7 0h1m2 0h2m3 0h1m6 0h1m8 0h1m-110 1h1m7 0h1m14 0h1m1 0h1m3 0h1m1 0h1m1 0h1m4 0h2m16 0h1m4 0h1m1 0h1m2 0h1m1 0h1m1 0h3m2 0h1m1 0h1m7 0h1m3 0h1m13 0h1m2 0h1m-93 1h1m2 0h1m1 0h1m4 0h1m2 0h1m1 0h1m3 0h1m1 0h3m1 0h1m5 0h1m2 0h1m1 0h1m4 0h2m2 0h3m3 0h1m2 0h2m1 0h2m2 0h1m1 0h1m1 0h1m2 0h2m3 0h2m2 0h1m1 0h2m14 0h1m1 0h1m-132 1h1m42 0h1m8 0h1m3 0h1m1 0h2m3 0h1m1 0h1m1 0h1m2 0h3m6 0h1m2 0h2m3 0h1m2 0h1m1 0h1m9 0h2m1 0h1m2 0h1m3 0h1m2 0h1m6 0h1m1 0h1m1 0h1m-127 1h1m5 0h1m15 0h1m1 0h1m9 0h2m6 0h1m2 0h1m1 0h2m2 0h3m6 0h2m1 0h5m1 0h3m1 0h1m2 0h1m3 0h1m3 0h1m3 0h1m2 0h2m1 0h1m7 0h2m1 0h2m6 0h1m3 0h1m1 0h2m8 0h1m-119 1h2m9 0h1m2 0h1m3 0h1m2 0h1m1 0h1m3 0h1m2 0h1m1 0h1m4 0h1m3 0h1m1 0h3m1 0h2m5 0h1m1 0h1m6 0h1m1 0h1m1 0h2m7 0h3m1 0h1m2 0h2m1 0h1m8 0h1m3 0h1m4 0h2m2 0h1m2 0h1m3 0h1m-100 1h1m8 0h1m6 0h1m1 0h3m1 0h1m2 0h1m6 0h1m4 0h1m1 0h1m1 0h1m2 0h2m1 0h1m2 0h1m1 0h2m2 0h2m6 0h2m6 0h2m2 0h1m2 0h2m8 0h3m3 0h1m-119 1h1m6 0h1m8 0h1m11 0h1m3 0h1m3 0h2m1 0h1m1 0h1m2 0h2m3 0h1m5 0h1m1 0h1m3 0h1m4 0h2m3 0h1m2 0h3m1 0h3m3 0h1m2 0h2m2 0h1m4 0h1m4 0h4m2 0h1m1 0h1m3 0h1m3 0h2m-116 1h1m7 0h1m13 0h1m3 0h1m1 0h1m2 0h1m1 0h1m1 0h2m9 0h1m3 0h1m2 0h1m6 0h1m2 0h1m6 0h1m1 0h2m1 0h1m3 0h1m1 0h1m1 0h2m2 0h1m1 0h1m9 0h3m1 0h1m2 0h1m4 0h1m2 0h2m1 0h1m1 0h1m5 0h2m-120 1h1m1 0h1m15 0h2m1 0h3m2 0h2m3 0h1m2 0h1m6 0h3m1 0h1m2 0h1m1 0h2m2 0h2m2 0h1m5 0h2m1 0h2m1 0h2m2 0h1m9 0h1m4 0h1m2 0h1m7 0h3m9 0h3m2 0h1m-120 1h1m13 0h3m1 0h1m2 0h1m7 0h4m2 0h2m1 0h1m1 0h2m4 0h1m1 0h3m1 0h1m4 0h1m3 0h1m3 0h2m2 0h1m4 0h1m1 0h2m1 0h1m6 0h1m1 0h1m1 0h3m1 0h1m4 0h1m4 0h1m2 0h2m1 0h1m-124 1h1m7 0h1m10 0h1m3 0h1m3 0h2m9 0h1m2 0h2m2 0h1m3 0h1m1 0h4m2 0h2m1 0h1m8 0h1m3 0h2m2 0h3m1 0h3m2 0h3m1 0h5m4 0h1m1 0h1m6 0h4m1 0h1m3 0h1m3 0h1m-107 1h2m2 0h1m2 0h2m4 0h1m1 0h1m1 0h1m1 0h1m4 0h2m3 0h1m2 0h3m1 0h1m4 0h1m3 0h3m1 0h1m1 0h1m1 0h2m2 0h1m3 0h2m2 0h2m4 0h2m1 0h1m2 0h1m1 0h4m7 0h1m1 0h1m2 0h1m3 0h1m2 0h3m5 0h1m1 0h1m-121 1h1m4 0h1m7 0h3m6 0h1m2 0h1m3 0h1m1 0h1m3 0h2m1 0h1m3 0h1m1 0h1m5 0h1m2 0h1m5 0h1m1 0h3m1 0h1m3 0h1m4 0h1m2 0h1m2 0h1m7 0h1m1 0h4m1 0h3m2 0h3m4 0h4m3 0h1m5 0h1m-114 1h1m4 0h1m1 0h1m5 0h1m3 0h1m1 0h1m1 0h1m3 0h1m1 0h1m1 0h1m1 0h1m3 0h3m1 0h1m2 0h1m2 0h1m3 0h1m2 0h1m3 0h4m5 0h4m1 0h4m1 0h1m4 0h2m1 0h3m3 0h1m3 0h1m8 0h1m1 0h1m1 0h1m3 0h1m2 0h1m-115 1h2m1 0h1m4 0h3m5 0h1m5 0h1m1 0h1m1 0h2m4 0h1m2 0h1m1 0h1m1 0h2m1 0h1m4 0h1m3 0h3m1 0h1m1 0h3m1 0h1m3 0h1m5 0h3m6 0h4m4 0h1m1 0h1m1 0h1m1 0h1m2 0h1m1 0h1m2 0h1m1 0h1m1 0h1m2 0h1m-104 1h1m4 0h1m2 0h1m1 0h1m3 0h1m2 0h1m4 0h1m2 0h4m4 0h2m1 0h2m1 0h3m1 0h1m1 0h2m1 0h1m1 0h1m5 0h1m1 0h4m1 0h1m1 0h4m2 0h1m6 0h4m3 0h2m1 0h1m4 0h1m3 0h2m2 0h1m5 0h1m2 0h1m-122 1h1m6 0h1m1 0h1m6 0h1m1 0h1m1 0h2m2 0h1m4 0h1m1 0h1m1 0h4m1 0h1m4 0h3m3 0h3m2 0h6m2 0h1m5 0h1m1 0h1m2 0h2m2 0h2m1 0h1m4 0h2m1 0h1m3 0h3m5 0h1m1 0h2m6 0h1m5 0h2m-123 1h1m15 0h1m1 0h3m1 0h3m1 0h3m2 0h1m2 0h3m3 0h5m2 0h3m3 0h3m3 0h1m2 0h3m2 0h1m2 0h2m3 0h2m5 0h1m3 0h1m7 0h1m3 0h2m1 0h1m6 0h1m5 0h3m2 0h1m-114 1h1m1 0h1m1 0h1m1 0h1m1 0h2m1 0h1m1 0h3m4 0h1m1 0h1m4 0h1m1 0h1m3 0h2m1 0h1m2 0h1m3 0h1m1 0h1m3 0h2m5 0h1m2 0h5m4 0h2m2 0h1m4 0h1m7 0h1m2 0h1m4 0h1m3 0h1m6 0h1m2 0h2m-116 1h1m8 0h2m8 0h1m1 0h2m1 0h1m1 0h1m1 0h1m2 0h1m1 0h1m2 0h2m2 0h2m1 0h1m2 0h2m1 0h1m2 0h1m3 0h1m1 0h1m1 0h2m2 0h2m2 0h2m1 0h5m1 0h1m2 0h2m2 0h1m4 0h1m15 0h1m16 0h1m3 0h2m-120 1h1m3 0h2m1 0h2m2 0h2m1 0h1m2 0h5m2 0h1m1 0h1m2 0h7m2 0h2m3 0h2m1 0h1m2 0h1m2 0h3m1 0h4m2 0h1m6 0h3m1 0h1m1 0h3m2 0h1m8 0h1m3 0h1m5 0h1m1 0h1m1 0h2m2 0h1m13 0h1m-119 1h2m6 0h1m3 0h1m2 0h1m3 0h2m8 0h4m5 0h1m1 0h7m2 0h2m4 0h4m2 0h1m1 0h1m2 0h1m1 0h1m3 0h2m2 0h2m3 0h2m1 0h1m1 0h1m7 0h1m4 0h1m4 0h1m18 0h2m-128 1h1m5 0h2m1 0h3m1 0h1m4 0h2m2 0h1m3 0h4m1 0h2m4 0h2m1 0h2m1 0h1m1 0h6m1 0h4m1 0h5m5 0h1m2 0h1m2 0h2m1 0h1m1 0h1m1 0h2m2 0h2m2 0h1m5 0h1m3 0h1m1 0h1m2 0h1m1 0h1m2 0h1m1 0h1m6 0h1m-119 1h1m5 0h2m2 0h2m3 0h1m2 0h1m3 0h1m1 0h3m1 0h1m1 0h6m3 0h2m1 0h2m2 0h1m1 0h2m3 0h5m2 0h1m2 0h1m3 0h2m3 0h1m12 0h1m5 0h1m1 0h1m8 0h1m3 0h1m-109 1h1m1 0h1m2 0h2m2 0h4m1 0h1m2 0h4m2 0h3m1 0h5m1 0h2m2 0h3m1 0h1m1 0h1m2 0h2m1 0h1m1 0h1m1 0h2m1 0h2m5 0h1m2 0h1m6 0h2m1 0h1m2 0h1m1 0h2m5 0h1m1 0h1m1 0h3m1 0h1m5 0h1m1 0h1m18 0h1m-126 1h1m1 0h1m1 0h2m4 0h1m1 0h1m1 0h2m3 0h1m2 0h4m1 0h2m2 0h3m1 0h1m2 0h4m3 0h3m4 0h1m1 0h4m8 0h1m2 0h4m4 0h1m2 0h1m1 0h1m2 0h1m7 0h1m1 0h1m2 0h1m15 0h1m10 0h1m-120 1h1m4 0h1m1 0h1m2 0h1m5 0h2m1 0h4m1 0h3m1 0h3m2 0h2m1 0h1m1 0h2m5 0h1m3 0h2m1 0h1m1 0h2m2 0h1m1 0h2m1 0h1m1 0h1m3 0h2m1 0h3m1 0h1m1 0h1m2 0h2m1 0h3m6 0h1m10 0h1m1 0h2m-119 1h1m2 0h1m2 0h1m3 0h1m2 0h1m1 0h1m1 0h1m3 0h1m3 0h1m2 0h1m1 0h3m3 0h1m1 0h2m1 0h2m1 0h2m1 0h3m1 0h1m2 0h1m1 0h2m1 0h1m2 0h2m1 0h7m2 0h2m1 0h1m5 0h1m2 0h1m1 0h1m5 0h2m5 0h1m4 0h1m11 0h1m4 0h1m-118 1h1m2 0h1m1 0h2m1 0h2m4 0h5m3 0h6m2 0h4m1 0h2m2 0h2m1 0h4m2 0h2m1 0h2m3 0h3m2 0h2m1 0h1m3 0h2m1 0h4m1 0h1m3 0h1m3 0h1m1 0h2m3 0h1m1 0h1m4 0h1m1 0h2m6 0h3m6 0h1m4 0h1m-118 1h2m2 0h1m1 0h1m2 0h2m1 0h1m1 0h4m1 0h2m1 0h1m1 0h1m1 0h1m1 0h2m1 0h10m1 0h2m5 0h2m1 0h1m2 0h3m1 0h3m1 0h1m2 0h3m3 0h1m2 0h1m5 0h1m5 0h1m-98 1h1m1 0h1m3 0h3m1 0h2m1 0h4m2 0h1m3 0h2m2 0h1m1 0h1m1 0h1m1 0h4m2 0h8m1 0h1m4 0h3m3 0h2m1 0h6m1 0h1m3 0h2m1 0h2m1 0h1m4 0h1m2 0h1m4 0h2m1 0h1m4 0h2m7 0h1m-103 1h1m2 0h1m1 0h1m1 0h3m2 0h2m2 0h1m3 0h1m1 0h2m5 0h4m1 0h3m4 0h7m1 0h3m1 0h2m2 0h3m1 0h1m5 0h2m2 0h1m1 0h2m1 0h1m1 0h1m5 0h2m19 0h1m14 0h1m-129 1h1m6 0h1m12 0h5m1 0h1m1 0h1m2 0h8m1 0h6m1 0h6m1 0h3m2 0h4m7 0h1m2 0h1m2 0h1m2 0h2m5 0h1m1 0h1m1 0h1m1 0h1m16 0h1m7 0h1m-106 1h4m1 0h2m5 0h1m2 0h1m1 0h3m3 0h1m1 0h3m2 0h3m2 0h2m1 0h1m1 0h2m1 0h5m1 0h1m3 0h1m1 0h1m1 0h3m2 0h1m2 0h2m3 0h1m7 0h1m19 0h1m-112 1h1m8 0h3m1 0h2m2 0h1m1 0h1m1 0h2m1 0h3m1 0h2m1 0h3m2 0h2m6 0h2m2 0h1m1 0h4m2 0h1m1 0h3m1 0h1m2 0h1m3 0h1m1 0h1m1 0h1m1 0h4m6 0h1m12 0h2m8 0h2m-100 1h1m2 0h1m3 0h1m1 0h3m3 0h1m1 0h1m1 0h1m1 0h4m1 0h5m2 0h2m2 0h3m1 0h1m1 0h1m2 0h4m1 0h1m1 0h4m2 0h1m3 0h1m1 0h1m4 0h1m1 0h2m15 0h1m22 0h1m-120 1h1m4 0h1m3 0h1m2 0h4m5 0h1m1 0h2m1 0h1m2 0h1m3 0h1m1 0h3m1 0h1m3 0h2m2 0h2m1 0h2m2 0h2m12 0h1m2 0h1m3 0h2m1 0h1m12 0h1m8 0h1m11 0h1m13 0h1m3 0h1m-127 1h1m6 0h1m2 0h1m1 0h2m1 0h1m1 0h2m3 0h3m1 0h1m1 0h1m2 0h3m1 0h1m1 0h2m1 0h3m1 0h1m3 0h1m2 0h1m8 0h2m4 0h2m11 0h1m3 0h1m7 0h1m4 0h1m3 0h1m-102 1h1m2 0h1m1 0h2m1 0h2m2 0h1m1 0h1m3 0h1m1 0h1m1 0h3m1 0h1m2 0h3m1 0h2m1 0h1m3 0h2m1 0h1m2 0h1m3 0h1m3 0h1m2 0h1m5 0h1m6 0h1m10 0h1m-79 1h3m6 0h2m1 0h3m1 0h1m4 0h3m1 0h2m1 0h3m2 0h1m1 0h3m2 0h2m1 0h1m2 0h1m2 0h1m1 0h1m1 0h1m2 0h1m4 0h1m10 0h1m8 0h1m33 0h1m1 0h1m-113 1h1m1 0h2m1 0h1m2 0h2m3 0h1m1 0h1m2 0h1m1 0h1m1 0h1m2 0h1m1 0h6m1 0h3m2 0h2m1 0h2m7 0h1m4 0h1m3 0h1m1 0h1m1 0h1m4 0h1m3 0h1m2 0h1m17 0h2m-109 1h1m5 0h1m5 0h3m1 0h1m2 0h1m1 0h3m1 0h2m3 0h2m1 0h2m1 0h2m2 0h2m1 0h4m7 0h1m3 0h3m3 0h1m4 0h1m1 0h1m4 0h1m1 0h1m6 0h1m4 0h1m3 0h1m-90 1h1m3 0h1m1 0h4m7 0h6m5 0h1m1 0h1m6 0h2m2 0h2m1 0h3m1 0h2m4 0h2m9 0h2m1 0h1m13 0h1m1 0h1m-82 1h1m2 0h1m2 0h2m1 0h1m3 0h2m2 0h3m3 0h1m1 0h1m3 0h1m2 0h1m4 0h2m3 0h1m7 0h1m1 0h1m1 0h2m5 0h3m3 0h1m3 0h1m2 0h1m4 0h1m2 0h1m8 0h1m4 0h1m-94 1h1m2 0h1m2 0h1m2 0h4m1 0h1m2 0h1m1 0h3m8 0h2m1 0h1m1 0h1m3 0h1m1 0h1m4 0h1m3 0h2m7 0h1m8 0h1m17 0h1m3 0h1m20 0h1m-110 1h4m1 0h2m4 0h1m5 0h1m1 0h1m3 0h1m4 0h1m1 0h4m2 0h1m1 0h1m4 0h1m1 0h1m4 0h1m1 0h1m1 0h1m1 0h1m1 0h1m1 0h1m2 0h3m8 0h1m6 0h1m-85 1h1m1 0h1m2 0h2m1 0h2m4 0h1m1 0h1m7 0h1m2 0h2m4 0h1m1 0h1m1 0h2m1 0h1m2 0h1m1 0h1m2 0h2m1 0h1m3 0h1m4 0h2m1 0h2m16 0h1m6 0h1m-89 1h1m6 0h5m3 0h2m2 0h1m2 0h1m1 0h2m5 0h1m7 0h1m5 0h2m1 0h1m3 0h2m1 0h1m5 0h1m17 0h1m-77 1h2m4 0h1m6 0h1m3 0h1m1 0h3m5 0h1m1 0h1m3 0h1m4 0h1m6 0h3m4 0h1m3 0h1m4 0h1m1 0h1m1 0h1m-75 1h1m2 0h2m3 0h2m1 0h1m3 0h1m1 0h6m10 0h1m1 0h1m1 0h3m8 0h2m2 0h1m1 0h1m10 0h1m2 0h1m-77 1h1m12 0h1m2 0h1m5 0h1m3 0h2m2 0h1m3 0h2m1 0h2m1 0h1m1 0h1m5 0h1m1 0h1m7 0h1m13 0h1m3 0h1m1 0h1m65 0h1m-136 1h1m3 0h2m1 0h1m1 0h1m3 0h1m3 0h1m1 0h2m2 0h3m3 0h1m14 0h3m9 0h1m5 0h2m-62 1h1m1 0h1m8 0h3m2 0h1m4 0h1m3 0h3m2 0h1m6 0h1m1 0h1m1 0h1m1 0h1m5 0h1m13 0h1m-64 1h1m3 0h1m1 0h1m1 0h1m6 0h1m1 0h1m2 0h1m2 0h2m5 0h1m6 0h3m2 0h1m1 0h2m2 0h1m5 0h2m-51 1h3m2 0h1m1 0h1m4 0h1m1 0h1m3 0h1m5 0h4m3 0h1m13 0h1m6 0h1m8 0h1m19 0h1m-85 1h1m1 0h1m3 0h1m3 0h1m9 0h2m5 0h2m4 0h4m1 0h1m15 0h1m15 0h2m4 0h1m-77 1h4m7 0h1m7 0h1m1 0h1m11 0h1m2 0h1m5 0h1m68 0h1m-122 1h1m3 0h1m7 0h4m1 0h1m3 0h1m1 0h1m13 0h1m10 0h1m17 0h1m9 0h1m-63 1h1m4 0h1m1 0h1m2 0h1m1 0h1m13 0h2m17 0h1m1 0h1m2 0h1m-62 1h1m3 0h1m2 0h1m4 0h2m26 0h1m16 0h1m9 0h1m-61 1h2m21 0h1m19 0h1m6 0h1m-58 1h1m12 0h2m4 0h1m3 0h1m12 0h2m30 0h1m-66 1h1m5 0h1m1 0h1m3 0h2m1 0h1m8 0h1m6 0h1m35 0h1m-52 1h1m10 0h1m5 0h1m2 0h1m26 0h1m-68 1h1m11 0h1m6 0h1m9 0h1m2 0h1m6 0h1m39 0h1m-70 1h1m8 0h1m24 0h1m17 0h1m-44 1h1m22 0h1m-33 1h1m2 0h1m1 0h1m4 0h1m22 0h1m2 0h1m4 0h1m-55 1h1m3 0h1m2 0h2m13 0h2m54 0h1m-88 1h1m21 0h2m11 0h1m14 0h1m3 0h1m9 0h1m-54 1h1m6 0h2m5 0h1m88 0h1m-107 1h1m14 0h2m5 1h1m1 0h1m30 0h1m-57 1h1m12 0h1m41 0h1m-55 1h2m17 0h1m10 0h2m6 0h1m17 0h1m-2 1h1m-57 1h1m9 0h1m5 0h1m7 0h1m1 0h1m-13 1h1m9 0h1m-17 1h1m5 0h1m11 0h1m-28 1h1m1 0h1m3 0h1m10 0h1m2 0h1m4 0h1m-31 1h1m7 0h1m22 0h1m-18 1h1m29 1h1m-15 1h1m7 0h1m-16 1h1m23 0h1m-30 1h1m10 0h1m1 0h1m12 0h1m-36 1h1m7 0h2m55 0h1m-11 1h1m-54 1h1m30 0h1m-39 1h1m16 0h1m8 0h1m15 0h1m22 0h1m-54 1h1m88 2h1m-88 1h1m12 0h1m-21 1h1m16 0h1m14 0h1m40 0h1m12 0h1m-17 1h1m-58 1h1m18 0h1m40 1h1m-80 2h1m15 1h1m4 0h1m-14 2h1m27 0h1m47 0h1m-71 1h1m5 0h1m-14 2h1m22 0h1m-22 2h1m22 0h1m-37 1h1m18 1h1m21 1h1m4 0h1m-46 2h1m102 0h1m-87 1h1m0 1h1m-21 2h1m67 1h1m10 0h1m-37 1h1m43 0h1m-71 1h1m-8 1h1m76 2h1m-82 3h1m24 0h1m79 2h1m-84 2h1m19 1h1m-3 1h1m-2 2h1m-31 3h1m33 1h1m-44 1h1m8 0h1m-5 1h1m-10 3h1m5 0h2m-7 1h1m6 0h1m5 0h1m15 2h1m-27 1h1m3 0h1m101 1h1m-105 1h1m86 0h1m-87 1h1m23 1h1m11 0h1m-31 1h1m40 1h1m43 0h1m-94 1h1m6 1h1m2 0h1m-11 1h2m9 0h1m12 0h1m-25 3h1m1 0h1m2 0h1m20 0h1m-24 1h1m3 0h1m-2 1h1m51 0h1m-58 2h1m6 0h1m-10 1h1m42 0h1m-45 1h1m7 0h1m-3 1h1m-6 1h1m2 0h1m17 0h1m-23 1h1m2 0h1m7 0h1m9 0h1m1 0h1m-26 1h1m4 0h1m5 0h1m13 0h1m42 0h1m-64 1h1m3 0h1m4 0h1m5 0h2m4 0h1m-24 1h1m2 0h1m7 0h1m18 0h1m4 0h1m-35 1h1m6 0h1m10 0h1m-24 1h2m18 0h1m-20 1h1m4 0h1m1 0h1m4 0h1m3 0h1m2 0h1m3 0h1m-16 1h1m2 0h2m5 0h1m1 0h4m-22 1h1m1 0h2m4 0h4m8 0h2m-21 1h1m1 0h1m1 0h1m2 0h1m1 0h1m3 0h1m1 0h1m1 0h1m12 0h1m11 0h1m-46 1h2m6 0h1m2 0h4m9 0h1m1 0h1m5 0h1m78 0h1m-111 1h1m5 0h1m6 0h2m1 0h2m1 0h1m6 0h1m5 0h1m8 0h1m7 0h2m-53 1h1m2 0h1m3 0h1m2 0h1m4 0h1m2 0h1m23 0h1m13 0h1m3 0h1m10 0h1m-68 1h1m2 0h2m1 0h1m1 0h1m5 0h1m1 0h1m2 0h1m1 0h1m2 0h1m7 0h1m-38 1h1m2 0h3m1 0h6m4 0h1m4 0h1m1 0h1m2 0h1m1 0h1m8 0h1m-34 1h2m1 0h4m1 0h1m1 0h1m1 0h3m2 0h1m1 0h1m1 0h1m4 0h1m6 0h1m6 0h1m-41 1h1m2 0h4m3 0h4m3 0h2m11 0h1m49 0h1m-80 1h2m2 0h1m4 0h2m3 0h3m6 0h1m1 0h1m6 0h4m2 0h1m16 0h1m1 0h1m-58 1h1m3 0h1m2 0h1m2 0h1m3 0h1m1 0h3m2 0h1m2 0h1m10 0h1m4 0h1m2 0h1m1 0h1m28 0h1m-81 1h1m1 0h2m1 0h1m1 0h1m5 0h2m1 0h3m2 0h1m4 0h1m1 0h1m3 0h1m9 0h1m1 0h1m2 0h1m5 0h1m6 0h1m-57 1h1m2 0h2m1 0h2m5 0h1m2 0h4m1 0h1m2 0h2m1 0h1m4 0h2m3 0h1m6 0h2m-46 1h1m4 0h1m2 0h1m3 0h5m14 0h2m2 0h1m8 0h1m5 0h1m4 0h1m20 0h1m-75 1h2m2 0h2m5 0h5m5 0h2m1 0h2m2 0h2m5 0h1m8 0h1m1 0h1m1 0h1m11 0h1m-71 1h1m8 0h1m1 0h1m5 0h2m1 0h1m4 0h1m1 0h1m1 0h2m1 0h2m7 0h1m5 0h1m3 0h1m2 0h1m6 0h2m-57 1h2m1 0h2m2 0h1m1 0h1m6 0h4m1 0h2m2 0h1m3 0h1m1 0h1m2 0h1m6 0h1m9 0h1m8 0h1m2 0h1m47 0h1m-113 1h1m5 0h1m2 0h1m1 0h1m1 0h1m2 0h1m1 0h1m4 0h1m8 0h1m6 0h1m7 0h1m5 0h1m22 0h1m-71 1h1m2 0h3m10 0h1m4 0h1m4 0h1m2 0h1m5 0h1m2 0h2m4 0h1m11 0h1m-50 1h1m1 0h1m2 0h1m1 0h1m1 0h1m2 0h1m1 0h1m4 0h2m1 0h1m7 0h1m1 0h1m2 0h1m1 0h1m5 0h1m-48 1h1m8 0h1m3 0h1m1 0h1m3 0h2m2 0h1m2 0h1m2 0h2m3 0h1m4 0h1m1 0h1m4 0h1m3 0h1m3 0h1m-54 1h1m1 0h1m5 0h1m2 0h2m2 0h1m5 0h2m5 0h1m1 0h1m1 0h1m2 0h1m1 0h1m9 0h1m4 0h1m3 0h1m-61 1h1m7 0h1m1 0h2m2 0h2m2 0h2m8 0h2m2 0h5m1 0h1m4 0h1m2 0h1m2 0h1m1 0h1m1 0h3m6 0h1m3 0h1m-65 1h1m3 0h1m2 0h1m2 0h3m2 0h1m3 0h2m1 0h2m1 0h3m4 0h1m1 0h1m2 0h1m1 0h1m1 0h1m8 0h1m1 0h1m3 0h1m36 0h1m-91 1h1m13 0h1m3 0h1m2 0h2m1 0h1m4 0h2m2 0h1m2 0h1m1 0h1m1 0h1m1 0h1m-50 1h1m5 0h1m11 0h1m1 0h4m9 0h2m9 0h1m1 0h1m2 0h1m3 0h2m12 0h1m-53 1h2m2 0h1m6 0h1m3 0h1m5 0h1m3 0h3m1 0h1m8 0h1m6 0h1m5 0h1m2 0h1m3 0h1m-69 1h1m5 0h1m12 0h1m1 0h2m2 0h1m1 0h3m3 0h2m1 0h1m3 0h1m2 0h1m1 0h3m7 0h1m1 0h2m1 0h1m15 0h1m-89 1h1m7 0h1m8 0h1m26 0h1m1 0h2m2 0h2m3 0h1m5 0h1m9 0h1m3 0h1m36 0h1m-101 1h1m9 0h2m2 0h1m6 0h1m15 0h1m2 0h2m3 0h2m4 0h2m3 0h1m19 0h1m-72 1h1m6 0h2m4 0h1m7 0h1m3 0h1m1 0h2m7 0h1m1 0h1m1 0h1m2 0h1m3 0h1m7 0h1m4 0h2m2 0h2m-34 1h2m1 0h1m2 0h1m4 0h1m2 0h1m3 0h1m6 0h2m1 0h2m1 0h1m35 0h1m-83 1h1m7 0h2m2 0h1m1 0h4m4 0h1m1 0h4m3 0h3m2 0h1m14 0h1m2 0h2m-76 1h1m25 0h1m4 0h2m7 0h2m1 0h1m1 0h1m3 0h1m3 0h1m4 0h1m5 0h3m-70 1h1m19 0h1m1 0h1m10 0h1m1 0h2m1 0h1m1 0h1m2 0h1m1 0h2m1 0h1m4 0h1m2 0h1m1 0h1m4 0h2m1 0h1m26 0h1m-86 1h1m18 0h1m1 0h1m1 0h2m6 0h1m1 0h1m3 0h1m11 0h1m1 0h1m2 0h1m1 0h2m1 0h1m1 0h1m2 0h1m13 0h1m4 0h1m-75 1h1m8 0h1m2 0h1m8 0h1m14 0h1m3 0h1m1 0h3m6 0h1m5 0h1m1 0h1m-50 1h1m12 0h1m2 0h1m1 0h1m3 0h1m5 0h1m1 0h1m6 0h2m8 0h1m13 0h1m-66 1h1m21 0h2m1 0h3m6 0h1m2 0h1m2 0h2m10 0h1m4 0h2m-39 1h1m1 0h1m1 0h1m4 0h1m1 0h2m3 0h3m1 0h1m11 0h1m4 0h1m3 0h1m12 0h1m-99 1h1m35 0h1m6 0h3m16 0h1m7 0h1m9 0h1m9 0h1m-62 1h2m19 0h1m3 0h1m1 0h1m3 0h1m4 0h1m11 0h2m4 0h1m4 0h1m1 0h2m5 0h1m-58 1h1m3 0h1m1 0h1m3 0h1m7 0h1m2 0h1m3 0h1m2 0h1m1 0h1m2 0h2m1 0h1m6 0h4m1 0h1m4 0h1m-51 1h1m11 0h1m1 0h1m1 0h1m2 0h1m5 0h2m5 0h2m3 0h1m4 0h1m3 0h1m15 0h1m-56 1h1m4 0h1m1 0h1m1 0h2m5 0h1m4 0h2m2 0h1m1 0h1m6 0h2m3 0h1m1 0h1m4 0h1m-87 1h1m26 0h1m1 0h1m5 0h1m24 0h2m1 0h1m9 0h1m4 0h1m-25 1h1m2 0h3m1 0h1m1 0h2m2 0h1m1 0h1m1 0h1m2 0h2m9 0h1m-40 1h1m2 0h1m2 0h1m8 0h1m2 0h4m2 0h1m1 0h1m1 0h1m4 0h1m1 0h1m3 0h1m-49 1h1m15 0h2m5 0h1m3 0h1m6 0h2m1 0h3m1 0h2m1 0h1m6 0h1m-41 1h1m6 0h2m5 0h1m2 0h2m4 0h1m1 0h2m1 0h1m1 0h4m4 0h1m16 0h1m-52 1h1m8 0h1m2 0h1m5 0h2m1 0h1m20 0h1m-46 1h1m4 0h2m6 0h2m2 0h1m2 0h1m4 0h1m6 0h2m6 0h1m-36 1h1m9 0h2m15 0h1m12 0h1m7 0h1m-51 1h1m2 0h2m5 0h1m2 0h1m5 0h1m2 0h1m1 0h2m3 0h2m3 0h1m8 0h1m-60 1h1m10 0h1m10 0h3m3 0h1m3 0h2m1 0h1m2 0h1m1 0h4m9 0h1m4 0h1m-36 1h1m2 0h1m1 0h1m1 0h1m2 0h1m2 0h2m5 0h1m3 0h1m11 0h1m-36 1h1m1 0h1m8 0h3m1 0h1m2 0h2m2 0h1m2 0h1m1 0h1m-32 1h1m11 0h1m4 0h1m3 0h1m1 0h6m2 0h1m7 0h1m-35 1h2m7 0h5m1 0h2m3 0h1m3 0h1m-19 1h1m3 0h1m1 0h1m1 0h1m1 0h2m5 0h2m1 0h3m-21 1h1m2 0h1m8 0h3m1 0h3m1 0h2m2 0h3m-36 1h2m10 0h2m1 0h1m1 0h2m1 0h1m1 0h2m4 0h1m6 0h1m8 0h1m-57 1h1m22 0h1m2 0h2m4 0h1m7 0h1m3 0h1m12 0h1m-47 1h1m8 0h1m6 0h1m6 0h4m2 0h1m9 0h1m4 0h1m-29 1h1m1 0h1m7 0h1m3 0h1m2 0h1m1 0h1m2 0h1m5 0h1m-21 1h1m2 0h1m5 0h2m6 0h1m5 0h1m-41 1h1m3 0h1m1 0h2m2 0h1m6 0h1m3 0h3m1 0h1m1 0h1m1 0h1m3 0h1m2 0h1m-21 1h1m2 0h5m12 0h1m-21 1h3m1 0h3m9 0h1m1 0h1m-22 1h1m18 0h1m-18 1h3m2 0h1m11 0h1m-14 1h1m1 0h1m3 0h1m9 0h1m-19 1h2m1 0h1m1 0h1m6 0h1m4 0h1m-22 1h1m2 0h1m9 0h2m2 0h1m5 0h1m-21 1h1m11 0h1m1 0h2m6 0h1m-29 1h1m2 0h1m3 0h1m1 0h1m1 0h1m1 0h4m7 0h1m-8 1h2m8 0h1m5 0h1m-27 1h2m4 0h1m3 0h1m1 0h1m3 0h1m9 0h1m-31 1h3m3 0h4m5 0h1m5 0h1m9 0h1m-19 1h1m4 0h3m1 0h3m-22 1h1m7 0h3m8 0h1m3 0h1m1 0h1m-18 1h1m1 0h1m1 0h1m21 0h1m-43 1h1m7 0h1m3 0h1m3 0h1m11 0h1m2 0h1m3 0h1m-18 1h2m1 0h1m1 0h1m-11 1h2m3 0h2m2 0h2m2 0h1m8 0h1m-19 1h1m3 0h1m1 0h1m8 0h1m5 0h1m-32 1h1m4 0h1m8 0h1m4 0h1m5 0h1m1 0h1m-17 1h2m2 0h2m5 0h1m-24 1h1m6 0h1m5 0h1m2 0h1m2 0h1m2 0h1m2 0h1m4 0h1m-25 1h1m1 0h2m5 0h3m4 0h1m3 0h1m3 0h1m2 0h1m-37 1h1m11 0h1m5 0h1m2 0h1m1 0h2m3 0h1m5 0h1m1 0h1m-22 1h1m2 0h1m8 0h1m2 0h1m-25 1h1m11 0h1m8 0h1m9 0h1m-24 1h1m1 0h1m1 0h1m1 0h1m-10 1h1m11 0h1m7 0h1m-19 1h1m12 0h1m7 0h1m-25 1h1m12 0h2m2 0h1m7 0h1m2 0h1m-32 1h1m7 0h1m4 0h1m5 0h2m-17 1h1m2 0h1m2 0h1m9 0h2m4 0h1m3 0h1m-33 1h1m3 0h1m7 0h1m1 0h1m2 0h1m7 0h1m1 0h1m-25 1h1m6 0h1m1 0h1m4 0h1m2 0h1m3 0h1m-17 1h1m1 0h1m1 0h2m8 0h1m-10 1h1m11 0h1m-9 1h1m3 0h1m-15 1h1m3 0h1m7 0h1m1 0h1m3 0h1m-25 1h1m16 0h1m3 0h2m-17 1h1m3 0h1m13 0h1m5 0h1m-22 1h1m17 0h1m-17 1h1m22 0h1m-23 1h1m3 0h1m3 0h1m-7 1h1m1 0h2m1 0h1m-12 1h1m9 0h1m7 0h1m6 0h1m-31 1h1m13 0h1m4 0h1m5 0h1m1 0h1m-12 1h1m2 0h1m2 2h1m15 0h1m-12 1h1m-20 1h1m5 0h1m2 0h1m2 0h1m-2 1h1m-5 1h1m14 0h1m-26 1h1m1 0h1m11 0h1m2 1h1m-12 1h1m3 0h1m2 0h1m14 0h1m-24 2h1m6 2h1m2 0h1m-6 2h1m5 0h1m2 0h1m3 8h1m-1 2h1m6 0h1m-22 3h1m15 0h1m3 0h1m-15 1h1m-5 2h1m1 4h1m18 8h1m-130 64h1m0 5h1m13 6h1m-18 1h1m80 6h1m6 0h1m-49 4h1m58 1h1m-17 5h1m-41 1h1m14 0h1m24 2h1m13 3h1m7 2h1m-37 1h1"/>
<path stroke="#f01010" d="M457 106h1m3 38h1m-4 7h1m7 0h1m-6 18h1m-10 8h1m4 4h1m7 1h1m-11 4h1m42 0h1m-39 1h1m16 2h1m-8 1h1m2 6h1m-24 1h1m9 1h1m24 1h1m-27 1h1m12 0h1m-28 2h1m6 4h1m29 0h1m-19 4h2m6 0h1m-17 1h1m-3 1h1m34 0h1m-36 3h1m5 1h1m-18 1h1m13 0h1m42 0h1m-63 1h1m11 0h1m17 0h1m-24 2h1m-8 1h1m7 0h1m16 0h1m41 0h1m-55 1h1m-6 1h3m2 0h1m1 0h1m3 0h1m0 2h1m-6 1h1m-2 2h1m1 0h1m6 0h1m1 0h1m-19 1h1m1 0h1m8 0h1m4 0h1m1 0h1m-29 1h1m5 1h1m7 0h1m8 0h1m-14 1h1m25 0h1m-35 1h1m4 0h1m8 0h1m6 0h1m1 0h1m3 0h1m5 0h1m22 0h1m-11 1h1m-34 1h2m13 0h1m7 0h1m3 0h1m-31 1h1m1 0h1m6 0h3m2 0h1m11 0h1m-28 1h1m2 0h1m3 0h1m25 0h1m3 0h1m-51 1h1m21 0h2m14 0h1m7 0h1m-30 1h2m1 0h1m2 0h1m11 0h1m4 0h1m-36 1h1m4 0h1m3 0h2m4 0h1m2 0h1m8 0h1m-21 1h1m12 0h1m15 0h1m5 0h2m-41 1h1m5 0h3m1 0h1m8 0h1m-21 1h1m3 0h1m2 0h1m1 0h2m2 0h1m3 0h1m6 0h1m-37 1h1m11 0h1m8 0h1m27 0h1m-37 1h2m4 0h2m14 0h1m4 0h1m4 0h2m-35 1h1m10 0h2m1 0h1m6 0h1m10 0h1m13 0h1m-49 1h1m11 0h1m2 0h1m11 0h1m9 0h1m20 0h1m-60 1h1m10 0h1m3 0h2m1 0h1m2 0h1m15 0h1m-37 1h1m1 0h1m12 0h1m15 0h1m1 0h1m3 0h1m9 0h1m-45 1h1m4 0h1m2 0h1m3 0h2m4 0h1m1 0h1m2 0h2m16 0h1m-51 1h1m8 0h1m2 0h3m1 0h3m4 0h1m1 0h1m1 0h3m1 0h1m2 0h1m3 0h1m8 0h1m-41 1h2m1 0h4m2 0h3m3 0h1m4 0h2m2 0h1m4 0h1m2 0h1m3 0h1m4 0h1m-41 1h1m3 0h1m2 0h1m1 0h1m1 0h2m3 0h2m6 0h2m1 0h1m8 0h1m5 0h1m-44 1h1m3 0h1m2 0h2m3 0h1m1 0h2m1 0h2m2 0h1m3 0h1m8 0h1m1 0h1m2 0h1m1 0h1m-43 1h3m1 0h2m2 0h2m2 0h3m2 0h3m2 0h1m3 0h1m11 0h2m-35 1h2m3 0h1m2 0h1m5 0h1m1 0h1m-24 1h2m1 0h1m1 0h1m1 0h1m1 0h1m2 0h9m5 0h1m6 0h1m3 0h1m33 0h1m-73 1h1m3 0h1m2 0h1m1 0h1m2 0h1m5 0h3m1 0h2m6 0h1m5 0h2m-40 1h1m3 0h1m5 0h4m2 0h1m1 0h2m1 0h1m3 0h1m5 0h1m3 0h1m5 0h1m1 0h1m10 0h1m-43 1h1m1 0h2m1 0h1m3 0h3m1 0h1m4 0h1m1 0h1m2 0h2m1 0h1m1 0h1m3 0h2m3 0h1m3 0h1m20 0h1m-74 1h1m2 0h2m5 0h2m1 0h2m4 0h2m1 0h1m2 0h1m1 0h1m1 0h1m1 0h1m-32 1h1m3 0h1m1 0h1m1 0h3m5 0h1m1 0h2m5 0h2m2 0h1m4 0h1m10 0h1m-38 1h1m2 0h1m4 0h1m1 0h2m2 0h2m3 0h1m3 0h1m1 0h1m1 0h1m7 0h1m5 0h1m-49 1h1m2 0h1m1 0h1m1 0h1m1 0h1m5 0h1m5 0h5m1 0h1m1 0h1m1 0h1m3 0h1m2 0h1m-42 1h1m10 0h1m1 0h1m4 0h2m2 0h1m1 0h1m4 0h1m3 0h2m8 0h1m2 0h1m6 0h1m-68 1h1m18 0h2m1 0h2m2 0h1m2 0h1m1 0h2m7 0h1m2 0h1m2 0h2m7 0h1m1 0h1m-51 1h1m13 0h1m1 0h4m1 0h1m3 0h1m4 0h1m3 0h1m1 0h1m3 0h1m4 0h2m17 0h1m-47 1h1m6 0h1m4 0h1m1 0h3m4 0h1m6 0h1m6 0h1m-37 1h1m1 0h1m4 0h2m5 0h2m1 0h2m11 0h1m2 0h1m13 0h1m-37 1h2m1 0h1m2 0h1m1 0h1m5 0h1m3 0h2m17 0h1m-55 1h1m3 0h1m3 0h1m8 0h1m4 0h1m1 0h1m5 0h1m-37 1h1m4 0h1m9 0h2m1 0h1m1 0h4m9 0h1m8 0h1m3 0h1m4 0h1m4 0h1m-47 1h1m8 0h2m1 0h1m2 0h1m3 0h1m1 0h1m9 0h2m9 0h1m-57 1h1m10 0h1m6 0h1m3 0h1m1 0h2m1 0h1m17 0h1m19 0h1m-61 1h1m2 0h1m5 0h1m1 0h1m4 0h1m4 0h2m2 0h1m10 0h1m7 0h1m-33 1h1m2 0h1m1 0h2m1 0h1m5 0h1m2 0h1m1 0h2m7 0h1m1 0h1m5 0h1m-37 1h1m6 0h2m1 0h1m7 0h1m-22 1h2m1 0h2m1 0h3m2 0h1m10 0h1m-28 1h1m8 0h2m5 0h1m6 0h1m3 0h1m-18 1h1m3 0h2m1 0h1m7 0h1m4 0h1m-42 1h1m15 0h1m2 0h1m5 0h1m13 0h1m1 0h1m-37 1h1m6 0h2m3 0h1m2 0h1m13 0h1m2 0h1m2 0h1m6 0h1m4 0h1m7 0h1m-47 1h1m16 0h1m8 0h1m-14 1h1m5 0h1m4 0h1m11 0h1m-42 1h1m19 0h1m2 0h2m5 0h2m2 0h1m14 0h1m-44 1h1m8 0h1m1 0h1m5 0h3m4 0h1m-19 1h1m1 0h2m15 0h1m7 0h1m9 0h1m-40 1h1m2 0h1m2 0h1m3 0h1m15 0h1m6 0h1m-46 1h1m14 0h1m22 0h1m-24 1h3m20 0h1m-3 1h1m-22 1h1m8 0h1m3 0h1m-15 1h1m24 0h1m-28 1h1m6 0h1m8 0h1m-28 1h1m7 0h1m10 0h1m4 1h1m-24 1h1m27 0h1m16 0h1m-33 1h1m-2 1h1m20 0h1m-25 1h1m13 0h1m-17 2h1m-18 1h1m8 0h1m10 0h1m6 0h1m3 1h1m-3 3h1m-15 3h1m-12 3h1m1 0h1m17 5h1m-18 4h1m13 4h1m-24 34h1m46 5h1m-40 5h1m0 8h1m32 1h1m-21 5h1m46 31h1m-34 6h1m-11 28h1m-32 17h1m48 0h1m-26 12h1m47 0h1m-74 11h1m22 0h1m45 0h1m-18 1h1m-2 1h1m-56 3h1m42 0h1m-5 2h1m-36 3h1m7 0h1m3 1h1m29 0h1m8 0h1m-12 1h1m-49 1h1m37 0h1m15 0h1m0 2h1m14 0h1m-15 1h1m-54 1h1m1 0h1m3 0h1m12 0h1m-13 1h1m5 0h1m24 0h1m4 0h1m-30 1h1m37 0h1m-44 1h1m13 0h1m14 0h1m-49 1h1m22 0h1m5 0h1m10 0h1m12 0h1m-46 1h1m1 0h1m3 0h1m13 0h1m4 0h1m35 0h1m-53 1h1m50 0h1m-2 1h1m-43 1h1m32 0h1m-32 1h1m-10 1h1m40 0h1m11 0h1m-46 1h1m-17 1h1m9 0h1m16 0h1m25 0h1m-55 1h1m18 0h1m-1 1h2m-4 1h1m-10 1h1m2 0h1m66 0h1m-71 1h1m6 0h1m6 0h1m17 0h1m-43 1h1m7 0h1m1 0h1m1 0h1m9 0h1m5 0h1m14 0h1m-34 1h1m2 0h1m8 0h1m4 0h1m4 0h1m-26 1h2m5 0h1m8 0h1m16 0h1m-34 1h1m4 0h1m5 0h1m4 0h1m2 0h1m-9 1h1m28 0h1m-33 2h2m5 0h1m4 0h1m-17 1h1m1 0h1m11 0h2m-11 1h1m1 0h2m14 0h1m1 0h1m10 0h1m19 0h1m-64 1h1m10 0h1m5 0h1m3 0h1m3 0h1m1 0h1m-31 1h1m6 0h1m7 0h1m2 0h1m14 0h1m1 0h1m-30 1h1m4 0h1m4 0h1m3 0h1m2 0h1m6 0h1m-14 1h1m1 0h1m2 0h1m3 0h1m7 0h2m16 0h1m-38 1h2m5 0h1m7 0h1m-21 1h1m6 0h1m2 0h2m29 0h1m-41 1h1m5 0h1m2 0h1m3 0h1m5 0h1m32 0h1m-53 1h1m4 0h1m3 0h5m20 0h1m4 0h2m-41 1h2m3 0h1m4 0h1m1 0h2m2 0h1m11 0h1m28 0h1m-66 1h1m8 0h1m5 0h1m2 0h2m3 0h1m5 0h1m6 0h1m-23 1h1m2 0h1m3 0h1m6 0h1m8 0h1m-31 1h1m9 0h1m1 0h1m2 0h1m5 0h1m3 0h1m-27 1h2m2 0h1m13 0h1m27 0h1m-50 1h1m1 0h1m3 0h1m6 0h2m8 0h1m42 0h1m-59 1h2m7 0h1m3 0h2m6 0h1m-16 1h1m2 0h1m28 0h1m-43 1h1m16 0h1m1 0h1m-20 1h1m2 0h1m8 0h2m7 0h1m1 0h1m8 0h1m8 0h1m-44 1h1m6 0h1m5 0h2m1 0h1m13 0h1m-26 1h1m3 0h1m2 0h1m1 0h1m2 0h1m2 0h1m2 0h1m-6 1h1m10 0h1m2 0h1m-35 1h2m4 0h1m6 0h2m2 0h1m2 0h2m1 0h1m36 0h1m-57 1h1m9 0h1m11 0h2m1 0h1m3 0h1m3 0h1m-32 1h1m1 0h1m2 0h1m4 0h2m8 0h1m5 0h1m-32 1h1m9 0h1m5 0h3m3 0h1m1 0h3m3 0h1m14 0h1m-41 1h1m1 0h1m1 0h2m3 0h1m4 0h1m1 0h2m8 0h1m-36 1h1m6 0h1m8 0h1m10 0h2m3 0h1m1 0h1m-37 1h1m17 0h1m1 0h1m7 0h2m-25 1h1m2 0h1m8 0h2m4 0h3m2 0h1m7 0h1m-26 1h1m7 0h1m2 0h1m5 0h2m14 0h1m-30 1h1m4 0h2m1 0h2m3 0h2m5 0h1m2 0h1m6 0h1m4 0h1m-42 1h1m7 0h1m1 0h1m7 0h1m1 0h1m16 0h1m-33 1h1m2 0h1m1 0h1m3 0h3m4 0h1m1 0h1m4 0h1m5 0h1m-31 1h1m4 0h1m1 0h1m4 0h1m5 0h1m3 0h1m-21 1h1m7 0h1m3 0h1m3 0h1m1 0h3m3 0h1m-20 1h3m1 0h1m2 0h1m4 0h1m1 0h1m3 0h1m-24 1h1m8 0h1m12 0h1m1 0h1m-23 1h1m3 0h1m2 0h4m2 0h1m-24 1h1m11 0h2m3 0h1m1 0h2m1 0h2m3 0h1m4 0h1m-25 1h1m4 0h1m3 0h1m2 0h2m5 0h1m6 0h1m4 0h2m-32 1h1m6 0h1m5 0h2m3 0h2m1 0h1m7 0h1m2 0h1m23 0h1m-50 1h1m2 0h1m1 0h1m3 0h4m1 0h1m-23 1h1m10 0h1m6 0h1m4 0h1m2 0h1m-19 1h1m5 0h2m4 0h1m2 0h2m4 0h1m-36 1h1m6 0h1m1 0h2m3 0h2m4 0h3m1 0h1m1 0h1m-13 1h1m7 0h1m13 0h1m-27 1h1m2 0h2m7 0h1m2 0h1m1 0h1m12 0h2m14 0h1m-48 1h2m2 0h2m3 0h2m6 0h1m2 0h1m14 0h1m3 0h1m-39 1h1m3 0h1m2 0h1m3 0h2m1 0h1m3 0h1m6 0h1m6 0h1m-34 1h1m6 0h1m4 0h1m1 0h1m1 0h1m4 0h1m-30 1h1m20 0h1m1 0h1m5 0h1m-17 1h1m1 0h1m2 0h1m5 0h1m5 0h1m5 0h1m-29 1h1m18 0h1m4 0h1m1 0h2m-26 1h1m1 0h1m5 0h1m3 0h1m1 0h1m8 0h1m4 0h1m-26 1h1m7 0h1m11 0h1m-26 1h1m8 0h1m2 0h1m3 0h2m5 0h1m4 0h1m8 0h1m-38 1h1m4 0h1m4 0h2m19 0h1m4 0h1m-35 1h1m1 0h2m4 0h1m8 0h1m1 0h1m5 0h1m-22 1h1m2 0h1m3 0h1m3 0h1m1 0h2m4 0h1m-18 1h3m1 0h1m3 0h1m5 0h1m2 0h2m2 0h1m-24 1h2m15 0h1m3 0h2m3 0h1m-22 1h1m2 0h1m1 0h1m1 0h1m2 0h1m9 0h1m-22 1h2m5 0h2m-12 1h1m2 0h1m4 0h1m10 0h1m2 0h2m16 0h1m-43 1h1m10 0h1m6 0h1m3 0h1m14 0h1m3 0h1m-36 1h1m11 0h1m1 0h1m16 0h1m-21 1h1m38 0h1m-44 1h3m2 0h1m4 0h1m3 0h1m-37 1h1m13 0h1m2 0h1m1 0h1m6 0h1m1 0h2m5 0h1m-15 1h1m2 0h2m3 0h2m6 0h1m-24 1h1m2 0h2m12 0h1m1 0h2m8 0h2m3 0h1m14 0h1m-43 1h1m2 0h2m1 0h1m7 0h2m1 0h1m2 0h1m-24 1h2m1 0h1m8 0h1m3 0h1m6 0h1m2 0h1m6 0h1m-16 1h1m8 0h1m2 0h1m-39 1h1m22 0h1m16 0h1m2 0h1m-36 1h1m4 0h1m9 0h2m4 0h1m1 0h1m8 0h1m15 0h1m-49 1h1m1 0h1m12 0h3m1 0h1m6 0h2m-28 1h1m3 0h1m1 0h1m1 0h1m4 0h1m1 0h1m4 0h1m6 0h1m-25 1h1m11 0h2m2 0h1m3 0h2m2 0h1m4 0h1m1 0h2m-43 1h1m3 0h1m6 0h1m2 0h1m12 0h1m6 0h1m4 0h1m1 0h1m2 0h1m-37 1h1m13 0h1m8 0h1m5 0h1m12 0h1m-35 1h1m13 0h1m5 0h3m5 0h1m-38 1h1m7 0h1m3 0h1m30 0h1m-43 1h1m16 0h1m2 0h1m6 0h1m7 0h1m-28 1h1m3 0h1m8 0h2m11 0h1m-17 1h1m5 0h2m1 0h1m1 0h1m2 0h1m-33 1h1m20 0h1m5 0h1m-6 1h1m-18 1h1m8 0h1m5 0h1m2 0h1m10 0h1m-18 1h1m16 0h1m-38 1h1m19 0h1m7 0h1m3 0h2m-2 1h1m-7 1h1m2 0h1m2 0h1m7 0h1m3 0h1m-29 1h1m5 0h1m22 0h1m1 0h1m-40 1h1m3 0h1m5 0h1m3 0h1m12 0h1m10 0h2m-26 1h1m7 0h1m17 0h1m12 0h1m-41 1h1m12 0h1m1 0h1m4 0h1m1 0h1m13 0h1m-28 1h1m13 0h1m-12 1h1m-10 2h1m16 0h1m7 1h1m-23 1h1m2 0h1m2 0h1m2 0h1m-14 1h1m-9 1h1m18 0h1m4 0h1m4 0h1m-10 1h1m6 0h1m-12 1h3m9 0h1m-2 2h1m6 0h1m-24 2h1m20 1h1m-30 1h1m29 1h1m-8 1h1m4 3h1m1 0h1m-16 1h1m14 1h1m-13 2h1m4 0h1m-3 2h1m15 1h1m-11 3h1m0 2h1m-5 4h1m22 3h1"/>
<path stroke="#c80000" d="M477 148h1m21 12h1m2 26h1m3 19h1m-18 12h1m-5 1h1m17 3h1m-27 11h1m11 6h1m18 4h1m-15 6h1m1 3h1m4 0h1m-9 2h1m-3 4h1m-7 2h1m4 1h1m-8 5h1m26 1h1m-19 2h1m9 0h1m-6 2h1m30 3h1m-41 1h1m22 0h1m-22 2h1m-5 5h1m-5 7h1m12 3h1m-18 148h1m32 21h1m7 8h1m-22 1h1m-11 1h1m5 1h1m-27 13h1m17 6h1m7 5h1m-1 14h1m8 18h1m5 6h1m-19 16h1m2 4h1m-16 1h1m31 6h1m-27 8h1m7 18h1m15 6h1m-18 24h1m-9 4h1m8 2h1m12 2h1m-2 2h1m-32 4h1m-1 1h1m0 2h1m11 1h1m9 3h1m53 0h1m-39 1h1m-20 4h1m12 0h1m-13 1h1m-15 1h1m23 2h1m-17 1h1m10 1h1m-11 1h1m-13 1h1m20 0h1m-1 1h1m35 0h1m-36 1h1m2 0h1m-13 1h1m-18 2h1m33 2h1m1 1h1m29 1h1m-22 3h1m0 1h1m34 0h1m-64 1h1m4 2h1m5 2h1m20 2h1m-28 2h1m14 0h1m11 0h1m-3 2h1m-23 1h1m30 0h1m18 0h1m-46 3h1m9 0h1m12 1h1m-9 1h1m-1 2h1m9 0h1m12 2h1m12 0h1m-47 1h1m10 3h1m-16 2h1m47 0h1m14 0h1m-27 1h1m-15 1h1m9 0h1m-18 1h1m0 5h2m-10 3h1m20 6h1m-29 4h1m54 4h1m-16 1h1m-29 3h1m-7 20h1"/>
</g>
<path shape-rendering="crispEdges" fill="none" stroke="#ff00ff" stroke-width="1" transform="translate(0,.5)" d="M497 104h8M481 105h17M466 106h16M451 107h16M436 108h16M422 109h15M407 110h16M392 111h16M378 112h15M363 113h16M348 114h16M332 115h17M316 116h17M300 117h17M283 118h18M264 119h20M244 120h21M222 121h23M196 122h27M160 123h37M67 124h94M77 158h1M77 159h4M80 160h4M83 161h3M85 162h4M88 163h4M91 164h4M94 165h4M97 166h5M101 167h4M500 167h5M104 168h5M482 168h19M108 169h4M466 169h17M111 170h5M452 170h15M115 171h5M438 171h15M119 172h6M425 172h14M124 173h5M413 173h13M128 174h6M400 174h14M133 175h7M387 175h14M139 176h7M375 176h13M145 177h7M362 177h14M151 178h8M348 178h15M158 179h9M334 179h15M166 180h11M318 180h16M176 181h13M299 181h19M188 182h20M274 182h26M207 183h68M84 191h2M85 192h2M86 193h2M87 194h2M88 195h3M90 196h2M91 197h2M92 198h3M94 199h2M95 200h2M97 201h2M98 202h2M99 203h3M101 204h2M102 205h3M104 206h2M105 207h3M74 208h1M107 208h3M57 209h1M65 209h1M74 209h1M109 209h2M57 210h1M65 210h1M74 210h1M110 210h3M57 211h1M65 211h1M74 211h1M112 211h3M57 212h1M65 212h1M74 212h1M114 212h2M57 213h1M65 213h1M74 213h1M116 213h2M57 214h2M65 214h2M74 214h2M117 214h3M490 214h5M58 215h1M66 215h1M75 215h1M119 215h3M484 215h7M58 216h1M66 216h1M75 216h1M121 216h3M478 216h7M58 217h1M66 217h1M75 217h1M123 217h3M472 217h7M58 218h1M66 218h1M75 218h1M125 218h3M466 218h7M58 219h1M66 219h1M75 219h2M127 219h3M461 219h6M58 220h1M66 220h1M76 220h1M129 220h3M455 220h7M58 221h1M66 221h1M76 221h1M131 221h3M450 221h6M58 222h1M66 222h2M76 222h1M133 222h4M444 222h7M58 223h1M67 223h1M76 223h2M136 223h3M439 223h6M58 224h1M67 224h1M77 224h1M138 224h3M433 224h7M58 225h1M67 225h1M77 225h1M140 225h4M428 225h6M58 226h1M67 226h1M77 226h2M143 226h3M422 226h7M58 227h2M67 227h1M78 227h1M145 227h4M417 227h6M59 228h1M67 228h2M78 228h1M148 228h4M411 228h7M59 229h1M68 229h1M78 229h2M151 229h4M405 229h7M59 230h1M68 230h1M79 230h1M154 230h4M400 230h6M59 231h1M68 231h1M79 231h1M157 231h4M394 231h7M59 232h1M68 232h2M79 232h2M160 232h4M388 232h7M59 233h1M69 233h1M80 233h1M163 233h4M382 233h7M59 234h1M69 234h1M80 234h1M166 234h5M376 234h7M59 235h1M69 235h1M80 235h2M170 235h5M370 235h7M59 236h1M69 236h1M81 236h1M174 236h5M363 236h8M59 237h2M69 237h2M81 237h2M178 237h5M356 237h8M60 238h1M70 238h1M82 238h1M182 238h6M349 238h8M60 239h1M70 239h1M82 239h2M187 239h6M342 239h8M60 240h1M70 240h2M83 240h1M192 240h7M334 240h9M60 241h1M71 241h1M83 241h2M198 241h7M325 241h10M60 242h1M71 242h1M84 242h1M204 242h8M315 242h11M60 243h1M71 243h1M84 243h2M211 243h11M304 243h12M60 244h1M71 244h2M85 244h1M221 244h13M288 244h16M60 245h2M72 245h1M85 245h2M233 245h56M61 246h1M72 246h1M86 246h1M61 247h1M72 247h2M86 247h2M61 248h1M73 248h1M87 248h1M61 249h1M73 249h1M87 249h2M61 250h1M73 250h2M88 250h1M61 251h1M74 251h1M88 251h2M61 252h2M74 252h1M89 252h2M62 253h1M74 253h2M90 253h1M62 254h1M75 254h1M90 254h2M62 255h1M75 255h1M91 255h2M62 256h1M75 256h2M92 256h1M62 257h2M76 257h1M92 257h2M63 258h1M76 258h2M93 258h2M63 259h1M77 259h1M94 259h1M63 260h1M77 260h2M94 260h2M63 261h1M78 261h1M95 261h2M491 261h3M63 262h2M78 262h1M96 262h2M488 262h4M64 263h1M78 263h2M97 263h2M484 263h5M64 264h1M79 264h1M98 264h1M481 264h4M64 265h1M79 265h2M98 265h2M478 265h4M64 266h2M80 266h1M99 266h2M475 266h4M65 267h1M80 267h2M100 267h2M472 267h4M65 268h1M81 268h1M101 268h2M469 268h4M65 269h1M81 269h2M102 269h2M466 269h4M65 270h2M82 270h1M103 270h2M463 270h4M66 271h1M82 271h2M104 271h2M460 271h4M66 272h1M83 272h1M105 272h2M457 272h4M66 273h2M83 273h2M106 273h2M454 273h4M67 274h1M84 274h2M107 274h2M451 274h4M67 275h1M85 275h1M108 275h2M448 275h4M67 276h2M85 276h2M109 276h2M445 276h4M68 277h1M86 277h1M110 277h2M442 277h4M68 278h1M86 278h2M111 278h3M439 278h4M68 279h2M87 279h2M113 279h2M435 279h5M69 280h1M88 280h1M114 280h2M432 280h4M69 281h1M88 281h2M115 281h2M429 281h4M69 282h2M89 282h2M116 282h3M426 282h4M70 283h1M90 283h1M118 283h2M422 283h5M70 284h2M90 284h2M119 284h3M419 284h4M71 285h1M91 285h2M121 285h2M415 285h5M71 286h2M92 286h2M122 286h3M412 286h4M72 287h1M93 287h1M124 287h2M408 287h5M72 288h2M93 288h2M125 288h3M404 288h5M73 289h1M94 289h2M127 289h2M401 289h4M73 290h2M95 290h2M128 290h3M397 290h5M74 291h1M96 291h2M130 291h3M393 291h5M74 292h2M97 292h2M132 292h2M389 292h5M75 293h1M98 293h1M133 293h3M385 293h5M75 294h2M98 294h2M135 294h3M381 294h5M76 295h1M99 295h2M137 295h3M377 295h5M76 296h2M100 296h2M139 296h3M372 296h6M77 297h2M101 297h2M141 297h4M368 297h5M78 298h1M102 298h2M144 298h3M363 298h6M78 299h2M103 299h2M146 299h3M359 299h5M79 300h2M104 300h2M148 300h4M354 300h6M80 301h1M105 301h3M151 301h3M349 301h6M80 302h2M107 302h2M153 302h4M344 302h6M81 303h2M108 303h2M156 303h4M338 303h6M82 304h2M109 304h2M159 304h4M332 304h7M83 305h2M110 305h2M162 305h4M326 305h7M84 306h2M111 306h3M165 306h5M320 306h7M85 307h1M113 307h2M169 307h5M313 307h8M85 308h2M114 308h3M173 308h5M306 308h8M86 309h2M116 309h2M177 309h6M298 309h9M87 310h2M117 310h3M182 310h6M289 310h10M88 311h2M119 311h2M187 311h8M279 311h11M89 312h2M120 312h3M194 312h10M266 312h14M90 313h2M122 313h3M203 313h16M247 313h20M91 314h3M124 314h2M218 314h30M93 315h2M125 315h3M94 316h2M127 316h3M95 317h2M129 317h3M96 318h2M131 318h4M97 319h3M134 319h3M99 320h2M136 320h4M100 321h2M139 321h3M101 322h3M141 322h4M103 323h2M144 323h4M104 324h3M147 324h5M106 325h2M151 325h4M107 326h3M154 326h4M109 327h3M157 327h4M111 328h2M160 328h4M112 329h3M163 329h4M114 330h3M166 330h4M116 331h3M169 331h3M118 332h3M171 332h4M120 333h3M174 333h3M122 334h3M176 334h3M124 335h3M178 335h4M126 336h4M181 336h3M129 337h3M183 337h3M131 338h4M185 338h3M134 339h3M187 339h3M136 340h4M189 340h3M139 341h4M191 341h3M142 342h3M193 342h3M144 343h4M195 343h3M147 344h4M197 344h3M150 345h3M199 345h3M152 346h4M201 346h3M155 347h3M203 347h3M157 348h4M205 348h3M160 349h3M207 349h3M162 350h3M209 350h3M164 351h3M211 351h3M166 352h3M213 352h3M168 353h3M215 353h4M170 354h2M218 354h3M172 355h2M220 355h3M173 356h3M222 356h4M175 357h2M225 357h4M176 358h3M228 358h3M178 359h2M230 359h4M179 360h2M233 360h5M180 361h3M237 361h4M182 362h2M240 362h5M331 362h5M183 363h2M244 363h5M321 363h11M184 364h2M248 364h7M311 364h11M185 365h2M254 365h9M298 365h14M186 366h3M262 366h37M188 367h2M189 368h2M190 369h2M191 370h2M192 371h2M193 372h2M194 373h2M195 374h2M196 375h2M197 376h2M198 377h2M199 378h2M200 379h2M201 380h2M202 381h2M203 382h2M204 383h2M205 384h2M206 385h2M207 386h2M208 387h2M209 388h2M210 389h2M211 390h2M212 391h2M213 392h2M214 393h2M215 394h2M216 395h2M217 396h2M218 397h2M219 398h2M220 399h2M221 400h2M222 401h2M223 402h2M224 403h2M225 404h2M226 405h2M227 406h2M228 407h2M229 408h2M230 409h3M232 410h2M233 411h2M234 412h2M235 413h2M236 414h3M238 415h2M239 416h2M240 417h3M242 418h2M243 419h3M245 420h2M246 421h2M247 422h3M249 423h2M250 424h3M252 425h2M253 426h3M255 427h3M257 428h2M258 429h3M260 430h2M261 431h3M263 432h3M265 433h2M266 434h3M268 435h3M270 436h3M272 437h3M274 438h2M275 439h3M277 440h3M279 441h3M281 442h3M283 443h3M285 444h3M287 445h3M289 446h3M291 447h3M293 448h3M295 449h3M297 450h3M299 451h3M301 452h3M303 453h3M305 454h3M307 455h3M309 456h3M311 457h3M313 458h3M315 459h3M317 460h4M320 461h3M322 462h3M324 463h3M326 464h3M328 465h3M330 466h3M332 467h3M334 468h3M336 469h3M338 470h3M340 471h3M342 472h4M345 473h3M347 474h3M349 475h3M351 476h2M353 477h2M354 478h3M356 479h3M358 480h3M360 481h3M362 482h3M364 483h3M366 484h3M368 485h2M369 486h3M371 487h3M373 488h3M375 489h2M376 490h3M378 491h3M380 492h2M381 493h3M383 494h2M385 495h2M386 496h3M388 497h2M389 498h2M390 499h3M392 500h2M393 501h2M394 502h3M396 503h2M397 504h2M398 505h2M399 506h2M400 507h2M401 508h2M402 509h2M403 510h2M404 511h2M405 512h2M406 513h2M407 514h2M408 515h2M409 516h1M409 517h2M410 518h2M411 519h2M412 520h1M412 521h2M413 522h2M414 523h1M414 524h2M415 525h2M416 526h1M416 527h2M417 528h1M417 529h2M418 530h1M418 531h2M419 532h1M419 533h2M420 534h1M420 535h2M421 536h1M421 537h1M421 538h2M422 539h1M422 540h2M423 541h1M423 542h1M423 543h2M424 544h1M424 545h2M425 546h1M425 547h1M425 548h2M426 549h1M426 550h1M426 551h2M427 552h1M427 553h2M428 554h1M68 555h1M428 555h1M68 556h2M428 556h2M69 557h2M429 557h1M70 558h2M429 558h1M71 559h1M429 559h2M71 560h2M430 560h1M72 561h2M430 561h1M73 562h2M430 562h2M74 563h2M431 563h1M75 564h2M431 564h2M76 565h2M432 565h1M77 566h2M432 566h1M78 567h1M432 567h2M78 568h2M433 568h1M79 569h2M433 569h2M80 570h2M434 570h1M81 571h2M434 571h1M82 572h2M434 572h2M83 573h2M435 573h1M84 574h2M435 574h2M85 575h2M436 575h1M86 576h2M436 576h2M87 577h2M437 577h1M88 578h2M437 578h2M89 579h2M438 579h1M90 580h2M438 580h2M91 581h2M439 581h1M92 582h2M439 582h2M93 583h2M440 583h1M94 584h2M440 584h2M95 585h2M441 585h1M96 586h2M441 586h2M97 587h3M442 587h1M99 588h2M442 588h2M100 589h2M443 589h1M101 590h2M443 590h2M102 591h2M444 591h2M103 592h2M445 592h1M104 593h2M445 593h2M105 594h3M446 594h1M107 595h2M446 595h2M108 596h2M447 596h2M109 597h2M448 597h1M110 598h3M448 598h2M112 599h2M449 599h2M113 600h2M450 600h1M114 601h2M450 601h2M115 602h3M451 602h2M117 603h2M452 603h1M118 604h2M452 604h2M119 605h3M453 605h2M121 606h2M454 606h2M122 607h2M455 607h1M123 608h3M455 608h2M125 609h2M456 609h2M126 610h2M457 610h2M127 611h3M458 611h2M129 612h2M459 612h1M130 613h3M459 613h2M132 614h2M460 614h2M133 615h3M461 615h2M135 616h2M462 616h2M136 617h3M463 617h1M138 618h2M463 618h2M139 619h3M464 619h2M141 620h2M465 620h2M142 621h3M466 621h2M144 622h3M467 622h2M146 623h2M468 623h2M147 624h3M469 624h2M149 625h3M470 625h1M151 626h2M470 626h2M152 627h3M471 627h2M154 628h3M472 628h2M156 629h2M473 629h2M157 630h3M474 630h2M159 631h3M475 631h2M161 632h3M476 632h2M163 633h3M477 633h2M165 634h2M478 634h2M166 635h3M479 635h2M168 636h3M480 636h2M170 637h3M481 637h2M172 638h3M482 638h2M174 639h3M483 639h2M176 640h3M484 640h2M178 641h3M485 641h2M180 642h3M486 642h2M182 643h3M487 643h2M184 644h4M488 644h2M187 645h3M489 645h2M189 646h3M490 646h2M191 647h3M491 647h2M193 648h3M492 648h2M195 649h4M493 649h2M198 650h3M494 650h2M200 651h3M495 651h2M202 652h4M496 652h2M205 653h3M497 653h2M207 654h4M498 654h2M210 655h3M499 655h2M212 656h4M500 656h2M215 657h3M501 657h2M217 658h4M502 658h2M220 659h4M503 659h1M223 660h3M504 660h1M225 661h4M504 661h2M228 662h4M505 662h2M231 663h4M506 663h2M234 664h4M507 664h2M237 665h4M508 665h2M240 666h4M509 666h2M243 667h4M510 667h2M246 668h5M511 668h2M250 669h4M512 669h2M253 670h4M513 670h2M256 671h5M514 671h2M260 672h5M515 672h2M264 673h4M516 673h2M267 674h5M517 674h2M271 675h5M518 675h2M275 676h5M519 676h2M279 677h6M520 677h2M284 678h5M521 678h1M288 679h6M521 679h2M293 680h5M522 680h2M297 681h6M523 681h2M302 682h6M524 682h2M307 683h7M525 683h2M313 684h7M526 684h2M319 685h7M527 685h1M325 686h8M527 686h2M332 687h8M528 687h2M339 688h9M529 688h2M347 689h9M530 689h2M355 690h11M531 690h2M365 691h13M532 691h1M377 692h17M532 692h2M393 693h23M533 693h2M534 694h2M535 695h1M535 696h2M536 697h1"/>
<path shape-rendering="crispEdges" fill="none" stroke="#fff" stroke-width="1" d="M13 35.5H591M22 779.5H591M22.5 35V780M590.5 35V780M13 35.5H23M590 35.5H600M18 60.5H23M590 60.5H595M18 86.5H23M590 86.5H595M18 111.5H23M590 111.5H595M18 136.5H23M590 136.5H595M13 162.5H23M590 162.5H600M18 187.5H23M590 187.5H595M18 213.5H23M590 213.5H595M18 238.5H23M590 238.5H595M18 263.5H23M590 263.5H595M13 289.5H23M590 289.5H600M18 314.5H23M590 314.5H595M18 339.5H23M590 339.5H595M18 365.5H23M590 365.5H595M18 390.5H23M590 390.5H595M13 415.5H23M590 415.5H600M18 441.5H23M590 441.5H595M18 466.5H23M590 466.5H595M18 492.5H23M590 492.5H595M18 517.5H23M590 517.5H595M13 542.5H23M590 542.5H600M18 568.5H23M590 568.5H595M18 593.5H23M590 593.5H595M18 618.5H23M590 618.5H595M18 644.5H23M590 644.5H595M13 669.5H23M590 669.5H600M18 694.5H23M590 694.5H595M18 720.5H23M590 720.5H595M18 745.5H23M590 745.5H595M18 771.5H23M590 771.5H595"/>
<path shape-rendering="crispEdges" fill="none" stroke="#b0b8ff" stroke-width="1" d="M30.5 780V782M52.5 780V782M74.5 780V782M96.5 780V785M118.5 780V782M140.5 780V782M162.5 780V782M183.5 780V782M205.5 780V785M227.5 780V782M249.5 780V782M271.5 780V782M293.5 780V782M315.5 780V785M337.5 780V782M359.5 780V782M380.5 780V782M402.5 780V782M424.5 780V785M446.5 780V782M468.5 780V782M490.5 780V782M512.5 780V782M534.5 780V785M556.5 780V782M578.5 780V782M31.5 36V41M87.5 36V41M153.5 36V41M226.5 36V41M296.5 36V41M388.5 36V41M466.5 36V41"/>
</svg>
<div class="t s" style="left:265.5px;top:2.4px;font-size:13.33px"><span style="color:#80ffff">S</span><span style="color:#ffffff">p</span><span style="color:#ffffff">e</span><span style="color:#ffffc0">c</span><span style="color:#ffff00">t</span><span style="color:#ff8000">r</span><span style="color:#ff0000">a</span><span style="color:#a8f4ff">l</span> <span style="color:#ffffff">C</span><span style="color:#ffffc0">l</span><span style="color:#ffff00">a</span><span style="color:#ff8000">s</span><span style="color:#ff0000">s</span></div>
<div class="t r" style="left:31.0px;top:17.6px;font-size:15px;color:#70f8f8;transform:scaleX(0.85)">O</div>
<div class="t r" style="left:66.0px;top:17.6px;font-size:15px;color:#c0ffff;transform:scaleX(0.85)">B</div>
<div class="t r" style="left:124.0px;top:17.6px;font-size:15px;color:#ffffff;transform:scaleX(0.85)">A</div>
<div class="t r" style="left:197.0px;top:17.6px;font-size:15px;color:#ffffc0;transform:scaleX(0.85)">F</div>
<div class="t r" style="left:273.5px;top:17.6px;font-size:15px;color:#ffff00;transform:scaleX(0.85)">G</div>
<div class="t r" style="left:368.5px;top:17.6px;font-size:15px;color:#ff8000;transform:scaleX(0.85)">K</div>
<div class="t r" style="left:485.8px;top:17.6px;font-size:15px;color:#ff0000;transform:scaleX(0.85)">M</div>
<div class="t s" style="left:24.0px;top:42.1px;font-size:12px;color:#b0b8ff;transform:scaleX(0.9)">30000K</div>
<div class="t s" style="left:79.0px;top:42.1px;font-size:12px;color:#b0b8ff;transform:scaleX(0.9)">10000K</div>
<div class="t s" style="left:144.5px;top:42.1px;font-size:12px;color:#b0b8ff;transform:scaleX(0.9)">7500K</div>
<div class="t s" style="left:217.7px;top:42.1px;font-size:12px;color:#b0b8ff;transform:scaleX(0.9)">6000K</div>
<div class="t s" style="left:287.5px;top:42.1px;font-size:12px;color:#b0b8ff;transform:scaleX(0.9)">5000K</div>
<div class="t s" style="left:380.0px;top:42.1px;font-size:12px;color:#b0b8ff;transform:scaleX(0.9)">4000K</div>
<div class="t s" style="left:457.7px;top:42.1px;font-size:12px;color:#b0b8ff;transform:scaleX(0.9)">3000K</div>
<div class="t s" style="left:603.0px;top:28.3px;font-size:12px;color:#ffff00;transform:scaleX(0.9)">−10</div>
<div class="t s" style="left:603.0px;top:155.3px;font-size:12px;color:#ffff00;transform:scaleX(0.9)">−5</div>
<div class="t s" style="left:603.0px;top:283.3px;font-size:12px;color:#ffff00;transform:scaleX(0.9)">0</div>
<div class="t s" style="left:603.0px;top:408.3px;font-size:12px;color:#ffff00;transform:scaleX(0.9)">+5</div>
<div class="t s" style="left:603.0px;top:535.3px;font-size:12px;color:#ffff00;transform:scaleX(0.9)">+10</div>
<div class="t s" style="left:603.0px;top:662.3px;font-size:12px;color:#ffff00;transform:scaleX(0.9)">+15</div>
<div class="t s" style="left:89.8px;top:784.4px;font-size:12px;color:#b0b8ff;transform:scaleX(0.9)">0.0</div>
<div class="t s" style="left:193.3px;top:784.4px;font-size:12px;color:#b0b8ff;transform:scaleX(0.9)">+0.5</div>
<div class="t s" style="left:302.8px;top:784.4px;font-size:12px;color:#b0b8ff;transform:scaleX(0.9)">+1.0</div>
<div class="t s" style="left:412.3px;top:784.4px;font-size:12px;color:#b0b8ff;transform:scaleX(0.9)">+1.5</div>
<div class="t s" style="left:521.8px;top:784.4px;font-size:12px;color:#b0b8ff;transform:scaleX(0.9)">+2.0</div>
<div class="t s" style="left:601.5px;top:209.1px;font-size:13.33px;color:#ffff00">Absolute</div>
<div class="t s" style="left:598.0px;top:222.8px;font-size:13.33px;color:#ffff00">Magnitude</div>
<div class="t s" style="left:508.0px;top:97.5px;font-size:13.33px;color:#ff00ff">Ia</div>
<div class="t s" style="left:506.3px;top:130.1px;font-size:13.33px;color:#ff00ff">Supergiants</div>
<div class="t s" style="left:508.0px;top:159.9px;font-size:13.33px;color:#ff00ff">Ib</div>
<div class="t s" style="left:497.3px;top:205.9px;font-size:13.33px;color:#ff00ff;letter-spacing:-0.2px">II Bright Giants</div>
<div class="t s" style="left:496.3px;top:253.7px;font-size:13.33px;color:#ff00ff;transform:scaleX(0.85)">III</div>
<div class="t s" style="left:523.2px;top:253.7px;font-size:13.33px;color:#ff00ff">Giants</div>
<div class="t s" style="left:341.2px;top:354.9px;font-size:13.33px;color:#ff00ff">IV</div>
<div class="t s" style="left:361.0px;top:354.9px;font-size:13.33px;color:#ff00ff">Subgiants</div>
<div class="t s" style="left:376.7px;top:446.9px;font-size:13.33px;color:#ff00ff">V</div>
<div class="t s" style="left:393.2px;top:446.9px;font-size:13.33px;color:#ff00ff;letter-spacing:0.15px">Main Sequence</div>
<div class="t s" style="left:266.0px;top:698.3px;font-size:13.33px;color:#ff00ff">White Dwarfs</div>
<div class="t r" style="left:265.5px;top:797.2px;font-size:15px;color:#b0b8ff;letter-spacing:0.25px">Colour (B−V)</div>
<div class="t r" style="left:630.5px;top:805.4px;font-size:13px;color:#0000ff;transform:scaleX(0.76);font-weight:bold">r powell</div>
</div>
</body></html>
